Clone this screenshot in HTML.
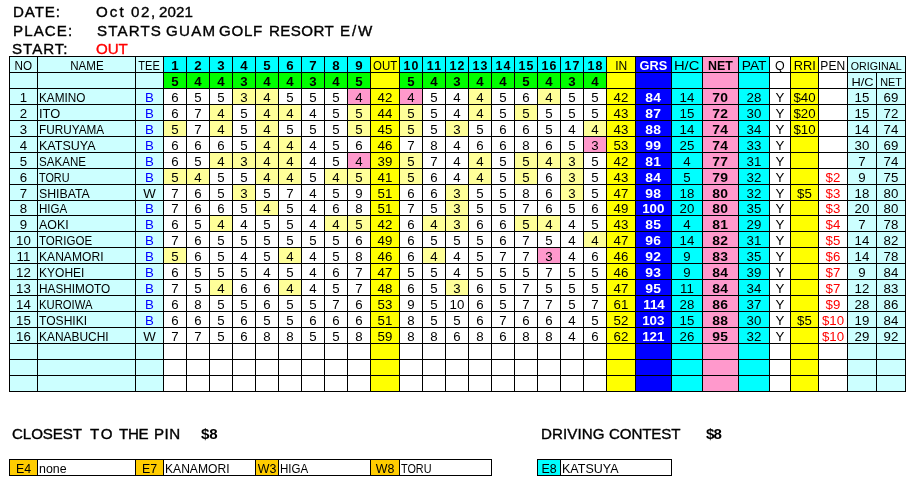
<!DOCTYPE html>
<html><head><meta charset="utf-8"><title>Golf Score</title>
<style>
html,body{margin:0;padding:0;background:#fff;}
body{width:922px;height:492px;position:relative;overflow:hidden;font-family:"Liberation Sans",sans-serif;color:#000;}
.g{position:absolute;background:#000;}
.b{position:absolute;}
.tl{position:absolute;left:0;top:0;width:922px;height:492px;will-change:transform;}
.t{position:absolute;font-size:12.4px;line-height:18px;height:15px;text-align:center;white-space:nowrap;overflow:visible;}
.sm{font-size:11.0px;}
.nm{text-align:left;padding-left:1px;box-sizing:border-box;}
.bd{font-weight:bold;}
.n{transform:scaleX(1.07);}
.wt{color:#fff;}
.bl{color:#0000ff;}
.rd{color:#ff0000;}
.h{position:absolute;transform:scaleX(1.08);transform-origin:left;font-size:14.0px;line-height:18px;white-space:nowrap;-webkit-text-stroke:0.35px currentColor;}
</style></head><body>
<div class="tl">
<div class="h" style="left:12.62px;top:2.85px;letter-spacing:0.82px;color:#000">DATE:</div>
<div class="h" style="left:96.49px;top:2.85px;letter-spacing:1.91px;color:#000">Oct</div>
<div class="h" style="left:130.83px;top:2.85px;letter-spacing:1.52px;color:#000">02,</div>
<div class="h" style="left:158.59px;top:2.85px;letter-spacing:0.09px;color:#000">2021</div>
<div class="h" style="left:12.82px;top:21.85px;letter-spacing:1.01px;color:#000">PLACE:</div>
<div class="h" style="left:96.73px;top:21.85px;letter-spacing:1.05px;color:#000">STARTS</div>
<div class="h" style="left:166.09px;top:21.85px;letter-spacing:1.19px;color:#000">GUAM</div>
<div class="h" style="left:218.79px;top:21.85px;letter-spacing:0.63px;color:#000">GOLF</div>
<div class="h" style="left:268.82px;top:21.85px;letter-spacing:0.39px;color:#000">RESORT</div>
<div class="h" style="left:340.02px;top:21.85px;letter-spacing:1.75px;color:#000">E/W</div>
<div class="h" style="left:12.43px;top:39.65px;letter-spacing:0.90px;color:#000">START:</div>
<div class="h" style="left:96.49px;top:39.65px;letter-spacing:-0.07px;color:#f00">OUT</div>
<div class="h" style="left:11.79px;top:424.95px;letter-spacing:-0.08px;color:#000">CLOSEST</div>
<div class="h" style="left:90.06px;top:424.95px;letter-spacing:1.55px;color:#000">TO</div>
<div class="h" style="left:118.96px;top:424.95px;letter-spacing:-0.31px;color:#000">THE</div>
<div class="h" style="left:154.02px;top:424.95px;letter-spacing:0.42px;color:#000">PIN</div>
<div class="h" style="left:200.80px;top:424.95px;letter-spacing:-0.22px;color:#000;font-weight:bold;-webkit-text-stroke:0">$8</div>
<div class="h" style="left:540.52px;top:424.95px;letter-spacing:0.06px;color:#000">DRIVING</div>
<div class="h" style="left:609.09px;top:424.95px;letter-spacing:-0.13px;color:#000">CONTEST</div>
<div class="h" style="left:706.10px;top:424.95px;letter-spacing:-0.87px;color:#000;font-weight:bold;-webkit-text-stroke:0">$8</div>
</div>
<div class="g" style="left:9px;top:56px;width:897px;height:336px"></div>
<div class="g" style="left:9px;top:459px;width:483px;height:17px"></div>
<div class="g" style="left:537px;top:459px;width:135px;height:17px"></div>
<div class="b" style="left:10px;top:57px;width:27px;height:15px;background:#ccffff"></div>
<div class="b" style="left:38px;top:57px;width:97px;height:15px;background:#ccffff"></div>
<div class="b" style="left:136px;top:57px;width:27px;height:15px;background:#ccffff"></div>
<div class="b" style="left:164px;top:57px;width:22px;height:15px;background:#00ffff"></div>
<div class="b" style="left:187px;top:57px;width:22px;height:15px;background:#00ffff"></div>
<div class="b" style="left:210px;top:57px;width:22px;height:15px;background:#00ffff"></div>
<div class="b" style="left:233px;top:57px;width:22px;height:15px;background:#00ffff"></div>
<div class="b" style="left:256px;top:57px;width:22px;height:15px;background:#00ffff"></div>
<div class="b" style="left:279px;top:57px;width:22px;height:15px;background:#00ffff"></div>
<div class="b" style="left:302px;top:57px;width:22px;height:15px;background:#00ffff"></div>
<div class="b" style="left:325px;top:57px;width:22px;height:15px;background:#00ffff"></div>
<div class="b" style="left:348px;top:57px;width:22px;height:15px;background:#00ffff"></div>
<div class="b" style="left:371px;top:57px;width:28px;height:15px;background:#ffff00"></div>
<div class="b" style="left:400px;top:57px;width:22px;height:15px;background:#00ffff"></div>
<div class="b" style="left:423px;top:57px;width:22px;height:15px;background:#00ffff"></div>
<div class="b" style="left:446px;top:57px;width:22px;height:15px;background:#00ffff"></div>
<div class="b" style="left:469px;top:57px;width:22px;height:15px;background:#00ffff"></div>
<div class="b" style="left:492px;top:57px;width:22px;height:15px;background:#00ffff"></div>
<div class="b" style="left:515px;top:57px;width:22px;height:15px;background:#00ffff"></div>
<div class="b" style="left:538px;top:57px;width:22px;height:15px;background:#00ffff"></div>
<div class="b" style="left:561px;top:57px;width:22px;height:15px;background:#00ffff"></div>
<div class="b" style="left:584px;top:57px;width:22px;height:15px;background:#00ffff"></div>
<div class="b" style="left:607px;top:57px;width:28px;height:15px;background:#ffff00"></div>
<div class="b" style="left:636px;top:57px;width:35px;height:15px;background:#0000ff"></div>
<div class="b" style="left:672px;top:57px;width:30px;height:15px;background:#00ffff"></div>
<div class="b" style="left:703px;top:57px;width:35px;height:15px;background:#ff99cc"></div>
<div class="b" style="left:739px;top:57px;width:30px;height:15px;background:#00ffff"></div>
<div class="b" style="left:770px;top:57px;width:20px;height:15px;background:#ffffff"></div>
<div class="b" style="left:791px;top:57px;width:27px;height:15px;background:#ffff00"></div>
<div class="b" style="left:819px;top:57px;width:28px;height:15px;background:#ffffff"></div>
<div class="b" style="left:848px;top:57px;width:57px;height:15px;background:#ccffff"></div>
<div class="b" style="left:10px;top:73px;width:27px;height:15px;background:#ccffff"></div>
<div class="b" style="left:38px;top:73px;width:97px;height:15px;background:#ccffff"></div>
<div class="b" style="left:136px;top:73px;width:27px;height:15px;background:#ccffff"></div>
<div class="b" style="left:164px;top:73px;width:22px;height:15px;background:#00ff00"></div>
<div class="b" style="left:187px;top:73px;width:22px;height:15px;background:#00ff00"></div>
<div class="b" style="left:210px;top:73px;width:22px;height:15px;background:#00ff00"></div>
<div class="b" style="left:233px;top:73px;width:22px;height:15px;background:#00ff00"></div>
<div class="b" style="left:256px;top:73px;width:22px;height:15px;background:#00ff00"></div>
<div class="b" style="left:279px;top:73px;width:22px;height:15px;background:#00ff00"></div>
<div class="b" style="left:302px;top:73px;width:22px;height:15px;background:#00ff00"></div>
<div class="b" style="left:325px;top:73px;width:22px;height:15px;background:#00ff00"></div>
<div class="b" style="left:348px;top:73px;width:22px;height:15px;background:#00ff00"></div>
<div class="b" style="left:371px;top:73px;width:28px;height:15px;background:#ffff00"></div>
<div class="b" style="left:400px;top:73px;width:22px;height:15px;background:#00ff00"></div>
<div class="b" style="left:423px;top:73px;width:22px;height:15px;background:#00ff00"></div>
<div class="b" style="left:446px;top:73px;width:22px;height:15px;background:#00ff00"></div>
<div class="b" style="left:469px;top:73px;width:22px;height:15px;background:#00ff00"></div>
<div class="b" style="left:492px;top:73px;width:22px;height:15px;background:#00ff00"></div>
<div class="b" style="left:515px;top:73px;width:22px;height:15px;background:#00ff00"></div>
<div class="b" style="left:538px;top:73px;width:22px;height:15px;background:#00ff00"></div>
<div class="b" style="left:561px;top:73px;width:22px;height:15px;background:#00ff00"></div>
<div class="b" style="left:584px;top:73px;width:22px;height:15px;background:#00ff00"></div>
<div class="b" style="left:607px;top:73px;width:28px;height:15px;background:#ffff00"></div>
<div class="b" style="left:636px;top:73px;width:35px;height:15px;background:#0000ff"></div>
<div class="b" style="left:672px;top:73px;width:30px;height:15px;background:#00ffff"></div>
<div class="b" style="left:703px;top:73px;width:35px;height:15px;background:#ff99cc"></div>
<div class="b" style="left:739px;top:73px;width:30px;height:15px;background:#00ffff"></div>
<div class="b" style="left:770px;top:73px;width:20px;height:15px;background:#ffffff"></div>
<div class="b" style="left:791px;top:73px;width:27px;height:15px;background:#ffff00"></div>
<div class="b" style="left:819px;top:73px;width:28px;height:15px;background:#ffffff"></div>
<div class="b" style="left:848px;top:73px;width:28px;height:15px;background:#ccffff"></div>
<div class="b" style="left:877px;top:73px;width:28px;height:15px;background:#ccffff"></div>
<div class="b" style="left:10px;top:89px;width:27px;height:15px;background:#ccffff"></div>
<div class="b" style="left:38px;top:89px;width:97px;height:15px;background:#ccffff"></div>
<div class="b" style="left:136px;top:89px;width:27px;height:15px;background:#ccffff"></div>
<div class="b" style="left:164px;top:89px;width:22px;height:15px;background:#ffffff"></div>
<div class="b" style="left:187px;top:89px;width:22px;height:15px;background:#ffffff"></div>
<div class="b" style="left:210px;top:89px;width:22px;height:15px;background:#ffffff"></div>
<div class="b" style="left:233px;top:89px;width:22px;height:15px;background:#ffff99"></div>
<div class="b" style="left:256px;top:89px;width:22px;height:15px;background:#ffff99"></div>
<div class="b" style="left:279px;top:89px;width:22px;height:15px;background:#ffffff"></div>
<div class="b" style="left:302px;top:89px;width:22px;height:15px;background:#ffffff"></div>
<div class="b" style="left:325px;top:89px;width:22px;height:15px;background:#ffffff"></div>
<div class="b" style="left:348px;top:89px;width:22px;height:15px;background:#ff99cc"></div>
<div class="b" style="left:371px;top:89px;width:28px;height:15px;background:#ffff00"></div>
<div class="b" style="left:400px;top:89px;width:22px;height:15px;background:#ff99cc"></div>
<div class="b" style="left:423px;top:89px;width:22px;height:15px;background:#ffffff"></div>
<div class="b" style="left:446px;top:89px;width:22px;height:15px;background:#ffffff"></div>
<div class="b" style="left:469px;top:89px;width:22px;height:15px;background:#ffff99"></div>
<div class="b" style="left:492px;top:89px;width:22px;height:15px;background:#ffffff"></div>
<div class="b" style="left:515px;top:89px;width:22px;height:15px;background:#ffffff"></div>
<div class="b" style="left:538px;top:89px;width:22px;height:15px;background:#ffff99"></div>
<div class="b" style="left:561px;top:89px;width:22px;height:15px;background:#ffffff"></div>
<div class="b" style="left:584px;top:89px;width:22px;height:15px;background:#ffffff"></div>
<div class="b" style="left:607px;top:89px;width:28px;height:15px;background:#ffff00"></div>
<div class="b" style="left:636px;top:89px;width:35px;height:15px;background:#0000ff"></div>
<div class="b" style="left:672px;top:89px;width:30px;height:15px;background:#00ffff"></div>
<div class="b" style="left:703px;top:89px;width:35px;height:15px;background:#ff99cc"></div>
<div class="b" style="left:739px;top:89px;width:30px;height:15px;background:#00ffff"></div>
<div class="b" style="left:770px;top:89px;width:20px;height:15px;background:#ffffff"></div>
<div class="b" style="left:791px;top:89px;width:27px;height:15px;background:#ffff00"></div>
<div class="b" style="left:819px;top:89px;width:28px;height:15px;background:#ffffff"></div>
<div class="b" style="left:848px;top:89px;width:28px;height:15px;background:#ccffff"></div>
<div class="b" style="left:877px;top:89px;width:28px;height:15px;background:#ccffff"></div>
<div class="b" style="left:10px;top:105px;width:27px;height:15px;background:#ccffff"></div>
<div class="b" style="left:38px;top:105px;width:97px;height:15px;background:#ccffff"></div>
<div class="b" style="left:136px;top:105px;width:27px;height:15px;background:#ccffff"></div>
<div class="b" style="left:164px;top:105px;width:22px;height:15px;background:#ffffff"></div>
<div class="b" style="left:187px;top:105px;width:22px;height:15px;background:#ffffff"></div>
<div class="b" style="left:210px;top:105px;width:22px;height:15px;background:#ffff99"></div>
<div class="b" style="left:233px;top:105px;width:22px;height:15px;background:#ffffff"></div>
<div class="b" style="left:256px;top:105px;width:22px;height:15px;background:#ffff99"></div>
<div class="b" style="left:279px;top:105px;width:22px;height:15px;background:#ffff99"></div>
<div class="b" style="left:302px;top:105px;width:22px;height:15px;background:#ffffff"></div>
<div class="b" style="left:325px;top:105px;width:22px;height:15px;background:#ffffff"></div>
<div class="b" style="left:348px;top:105px;width:22px;height:15px;background:#ffff99"></div>
<div class="b" style="left:371px;top:105px;width:28px;height:15px;background:#ffff00"></div>
<div class="b" style="left:400px;top:105px;width:22px;height:15px;background:#ffff99"></div>
<div class="b" style="left:423px;top:105px;width:22px;height:15px;background:#ffffff"></div>
<div class="b" style="left:446px;top:105px;width:22px;height:15px;background:#ffffff"></div>
<div class="b" style="left:469px;top:105px;width:22px;height:15px;background:#ffff99"></div>
<div class="b" style="left:492px;top:105px;width:22px;height:15px;background:#ffffff"></div>
<div class="b" style="left:515px;top:105px;width:22px;height:15px;background:#ffff99"></div>
<div class="b" style="left:538px;top:105px;width:22px;height:15px;background:#ffffff"></div>
<div class="b" style="left:561px;top:105px;width:22px;height:15px;background:#ffffff"></div>
<div class="b" style="left:584px;top:105px;width:22px;height:15px;background:#ffffff"></div>
<div class="b" style="left:607px;top:105px;width:28px;height:15px;background:#ffff00"></div>
<div class="b" style="left:636px;top:105px;width:35px;height:15px;background:#0000ff"></div>
<div class="b" style="left:672px;top:105px;width:30px;height:15px;background:#00ffff"></div>
<div class="b" style="left:703px;top:105px;width:35px;height:15px;background:#ff99cc"></div>
<div class="b" style="left:739px;top:105px;width:30px;height:15px;background:#00ffff"></div>
<div class="b" style="left:770px;top:105px;width:20px;height:15px;background:#ffffff"></div>
<div class="b" style="left:791px;top:105px;width:27px;height:15px;background:#ffff00"></div>
<div class="b" style="left:819px;top:105px;width:28px;height:15px;background:#ffffff"></div>
<div class="b" style="left:848px;top:105px;width:28px;height:15px;background:#ccffff"></div>
<div class="b" style="left:877px;top:105px;width:28px;height:15px;background:#ccffff"></div>
<div class="b" style="left:10px;top:121px;width:27px;height:15px;background:#ccffff"></div>
<div class="b" style="left:38px;top:121px;width:97px;height:15px;background:#ccffff"></div>
<div class="b" style="left:136px;top:121px;width:27px;height:15px;background:#ccffff"></div>
<div class="b" style="left:164px;top:121px;width:22px;height:15px;background:#ffff99"></div>
<div class="b" style="left:187px;top:121px;width:22px;height:15px;background:#ffffff"></div>
<div class="b" style="left:210px;top:121px;width:22px;height:15px;background:#ffff99"></div>
<div class="b" style="left:233px;top:121px;width:22px;height:15px;background:#ffffff"></div>
<div class="b" style="left:256px;top:121px;width:22px;height:15px;background:#ffff99"></div>
<div class="b" style="left:279px;top:121px;width:22px;height:15px;background:#ffffff"></div>
<div class="b" style="left:302px;top:121px;width:22px;height:15px;background:#ffffff"></div>
<div class="b" style="left:325px;top:121px;width:22px;height:15px;background:#ffffff"></div>
<div class="b" style="left:348px;top:121px;width:22px;height:15px;background:#ffff99"></div>
<div class="b" style="left:371px;top:121px;width:28px;height:15px;background:#ffff00"></div>
<div class="b" style="left:400px;top:121px;width:22px;height:15px;background:#ffff99"></div>
<div class="b" style="left:423px;top:121px;width:22px;height:15px;background:#ffffff"></div>
<div class="b" style="left:446px;top:121px;width:22px;height:15px;background:#ffff99"></div>
<div class="b" style="left:469px;top:121px;width:22px;height:15px;background:#ffffff"></div>
<div class="b" style="left:492px;top:121px;width:22px;height:15px;background:#ffffff"></div>
<div class="b" style="left:515px;top:121px;width:22px;height:15px;background:#ffffff"></div>
<div class="b" style="left:538px;top:121px;width:22px;height:15px;background:#ffffff"></div>
<div class="b" style="left:561px;top:121px;width:22px;height:15px;background:#ffffff"></div>
<div class="b" style="left:584px;top:121px;width:22px;height:15px;background:#ffff99"></div>
<div class="b" style="left:607px;top:121px;width:28px;height:15px;background:#ffff00"></div>
<div class="b" style="left:636px;top:121px;width:35px;height:15px;background:#0000ff"></div>
<div class="b" style="left:672px;top:121px;width:30px;height:15px;background:#00ffff"></div>
<div class="b" style="left:703px;top:121px;width:35px;height:15px;background:#ff99cc"></div>
<div class="b" style="left:739px;top:121px;width:30px;height:15px;background:#00ffff"></div>
<div class="b" style="left:770px;top:121px;width:20px;height:15px;background:#ffffff"></div>
<div class="b" style="left:791px;top:121px;width:27px;height:15px;background:#ffff00"></div>
<div class="b" style="left:819px;top:121px;width:28px;height:15px;background:#ffffff"></div>
<div class="b" style="left:848px;top:121px;width:28px;height:15px;background:#ccffff"></div>
<div class="b" style="left:877px;top:121px;width:28px;height:15px;background:#ccffff"></div>
<div class="b" style="left:10px;top:137px;width:27px;height:15px;background:#ccffff"></div>
<div class="b" style="left:38px;top:137px;width:97px;height:15px;background:#ccffff"></div>
<div class="b" style="left:136px;top:137px;width:27px;height:15px;background:#ccffff"></div>
<div class="b" style="left:164px;top:137px;width:22px;height:15px;background:#ffffff"></div>
<div class="b" style="left:187px;top:137px;width:22px;height:15px;background:#ffffff"></div>
<div class="b" style="left:210px;top:137px;width:22px;height:15px;background:#ffffff"></div>
<div class="b" style="left:233px;top:137px;width:22px;height:15px;background:#ffffff"></div>
<div class="b" style="left:256px;top:137px;width:22px;height:15px;background:#ffff99"></div>
<div class="b" style="left:279px;top:137px;width:22px;height:15px;background:#ffff99"></div>
<div class="b" style="left:302px;top:137px;width:22px;height:15px;background:#ffffff"></div>
<div class="b" style="left:325px;top:137px;width:22px;height:15px;background:#ffffff"></div>
<div class="b" style="left:348px;top:137px;width:22px;height:15px;background:#ffffff"></div>
<div class="b" style="left:371px;top:137px;width:28px;height:15px;background:#ffff00"></div>
<div class="b" style="left:400px;top:137px;width:22px;height:15px;background:#ffffff"></div>
<div class="b" style="left:423px;top:137px;width:22px;height:15px;background:#ffffff"></div>
<div class="b" style="left:446px;top:137px;width:22px;height:15px;background:#ffffff"></div>
<div class="b" style="left:469px;top:137px;width:22px;height:15px;background:#ffffff"></div>
<div class="b" style="left:492px;top:137px;width:22px;height:15px;background:#ffffff"></div>
<div class="b" style="left:515px;top:137px;width:22px;height:15px;background:#ffffff"></div>
<div class="b" style="left:538px;top:137px;width:22px;height:15px;background:#ffffff"></div>
<div class="b" style="left:561px;top:137px;width:22px;height:15px;background:#ffffff"></div>
<div class="b" style="left:584px;top:137px;width:22px;height:15px;background:#ff99cc"></div>
<div class="b" style="left:607px;top:137px;width:28px;height:15px;background:#ffff00"></div>
<div class="b" style="left:636px;top:137px;width:35px;height:15px;background:#0000ff"></div>
<div class="b" style="left:672px;top:137px;width:30px;height:15px;background:#00ffff"></div>
<div class="b" style="left:703px;top:137px;width:35px;height:15px;background:#ff99cc"></div>
<div class="b" style="left:739px;top:137px;width:30px;height:15px;background:#00ffff"></div>
<div class="b" style="left:770px;top:137px;width:20px;height:15px;background:#ffffff"></div>
<div class="b" style="left:791px;top:137px;width:27px;height:15px;background:#ffff00"></div>
<div class="b" style="left:819px;top:137px;width:28px;height:15px;background:#ffffff"></div>
<div class="b" style="left:848px;top:137px;width:28px;height:15px;background:#ccffff"></div>
<div class="b" style="left:877px;top:137px;width:28px;height:15px;background:#ccffff"></div>
<div class="b" style="left:10px;top:153px;width:27px;height:15px;background:#ccffff"></div>
<div class="b" style="left:38px;top:153px;width:97px;height:15px;background:#ccffff"></div>
<div class="b" style="left:136px;top:153px;width:27px;height:15px;background:#ccffff"></div>
<div class="b" style="left:164px;top:153px;width:22px;height:15px;background:#ffffff"></div>
<div class="b" style="left:187px;top:153px;width:22px;height:15px;background:#ffffff"></div>
<div class="b" style="left:210px;top:153px;width:22px;height:15px;background:#ffff99"></div>
<div class="b" style="left:233px;top:153px;width:22px;height:15px;background:#ffff99"></div>
<div class="b" style="left:256px;top:153px;width:22px;height:15px;background:#ffff99"></div>
<div class="b" style="left:279px;top:153px;width:22px;height:15px;background:#ffff99"></div>
<div class="b" style="left:302px;top:153px;width:22px;height:15px;background:#ffffff"></div>
<div class="b" style="left:325px;top:153px;width:22px;height:15px;background:#ffffff"></div>
<div class="b" style="left:348px;top:153px;width:22px;height:15px;background:#ff99cc"></div>
<div class="b" style="left:371px;top:153px;width:28px;height:15px;background:#ffff00"></div>
<div class="b" style="left:400px;top:153px;width:22px;height:15px;background:#ffff99"></div>
<div class="b" style="left:423px;top:153px;width:22px;height:15px;background:#ffffff"></div>
<div class="b" style="left:446px;top:153px;width:22px;height:15px;background:#ffffff"></div>
<div class="b" style="left:469px;top:153px;width:22px;height:15px;background:#ffff99"></div>
<div class="b" style="left:492px;top:153px;width:22px;height:15px;background:#ffffff"></div>
<div class="b" style="left:515px;top:153px;width:22px;height:15px;background:#ffff99"></div>
<div class="b" style="left:538px;top:153px;width:22px;height:15px;background:#ffff99"></div>
<div class="b" style="left:561px;top:153px;width:22px;height:15px;background:#ffff99"></div>
<div class="b" style="left:584px;top:153px;width:22px;height:15px;background:#ffffff"></div>
<div class="b" style="left:607px;top:153px;width:28px;height:15px;background:#ffff00"></div>
<div class="b" style="left:636px;top:153px;width:35px;height:15px;background:#0000ff"></div>
<div class="b" style="left:672px;top:153px;width:30px;height:15px;background:#00ffff"></div>
<div class="b" style="left:703px;top:153px;width:35px;height:15px;background:#ff99cc"></div>
<div class="b" style="left:739px;top:153px;width:30px;height:15px;background:#00ffff"></div>
<div class="b" style="left:770px;top:153px;width:20px;height:15px;background:#ffffff"></div>
<div class="b" style="left:791px;top:153px;width:27px;height:15px;background:#ffff00"></div>
<div class="b" style="left:819px;top:153px;width:28px;height:15px;background:#ffffff"></div>
<div class="b" style="left:848px;top:153px;width:28px;height:15px;background:#ccffff"></div>
<div class="b" style="left:877px;top:153px;width:28px;height:15px;background:#ccffff"></div>
<div class="b" style="left:10px;top:169px;width:27px;height:15px;background:#ccffff"></div>
<div class="b" style="left:38px;top:169px;width:97px;height:15px;background:#ccffff"></div>
<div class="b" style="left:136px;top:169px;width:27px;height:15px;background:#ccffff"></div>
<div class="b" style="left:164px;top:169px;width:22px;height:15px;background:#ffff99"></div>
<div class="b" style="left:187px;top:169px;width:22px;height:15px;background:#ffff99"></div>
<div class="b" style="left:210px;top:169px;width:22px;height:15px;background:#ffffff"></div>
<div class="b" style="left:233px;top:169px;width:22px;height:15px;background:#ffffff"></div>
<div class="b" style="left:256px;top:169px;width:22px;height:15px;background:#ffff99"></div>
<div class="b" style="left:279px;top:169px;width:22px;height:15px;background:#ffff99"></div>
<div class="b" style="left:302px;top:169px;width:22px;height:15px;background:#ffffff"></div>
<div class="b" style="left:325px;top:169px;width:22px;height:15px;background:#ffff99"></div>
<div class="b" style="left:348px;top:169px;width:22px;height:15px;background:#ffff99"></div>
<div class="b" style="left:371px;top:169px;width:28px;height:15px;background:#ffff00"></div>
<div class="b" style="left:400px;top:169px;width:22px;height:15px;background:#ffff99"></div>
<div class="b" style="left:423px;top:169px;width:22px;height:15px;background:#ffffff"></div>
<div class="b" style="left:446px;top:169px;width:22px;height:15px;background:#ffffff"></div>
<div class="b" style="left:469px;top:169px;width:22px;height:15px;background:#ffff99"></div>
<div class="b" style="left:492px;top:169px;width:22px;height:15px;background:#ffffff"></div>
<div class="b" style="left:515px;top:169px;width:22px;height:15px;background:#ffff99"></div>
<div class="b" style="left:538px;top:169px;width:22px;height:15px;background:#ffffff"></div>
<div class="b" style="left:561px;top:169px;width:22px;height:15px;background:#ffff99"></div>
<div class="b" style="left:584px;top:169px;width:22px;height:15px;background:#ffffff"></div>
<div class="b" style="left:607px;top:169px;width:28px;height:15px;background:#ffff00"></div>
<div class="b" style="left:636px;top:169px;width:35px;height:15px;background:#0000ff"></div>
<div class="b" style="left:672px;top:169px;width:30px;height:15px;background:#00ffff"></div>
<div class="b" style="left:703px;top:169px;width:35px;height:15px;background:#ff99cc"></div>
<div class="b" style="left:739px;top:169px;width:30px;height:15px;background:#00ffff"></div>
<div class="b" style="left:770px;top:169px;width:20px;height:15px;background:#ffffff"></div>
<div class="b" style="left:791px;top:169px;width:27px;height:15px;background:#ffff00"></div>
<div class="b" style="left:819px;top:169px;width:28px;height:15px;background:#ffffff"></div>
<div class="b" style="left:848px;top:169px;width:28px;height:15px;background:#ccffff"></div>
<div class="b" style="left:877px;top:169px;width:28px;height:15px;background:#ccffff"></div>
<div class="b" style="left:10px;top:185px;width:27px;height:15px;background:#ccffff"></div>
<div class="b" style="left:38px;top:185px;width:97px;height:15px;background:#ccffff"></div>
<div class="b" style="left:136px;top:185px;width:27px;height:15px;background:#ccffff"></div>
<div class="b" style="left:164px;top:185px;width:22px;height:15px;background:#ffffff"></div>
<div class="b" style="left:187px;top:185px;width:22px;height:15px;background:#ffffff"></div>
<div class="b" style="left:210px;top:185px;width:22px;height:15px;background:#ffffff"></div>
<div class="b" style="left:233px;top:185px;width:22px;height:15px;background:#ffff99"></div>
<div class="b" style="left:256px;top:185px;width:22px;height:15px;background:#ffffff"></div>
<div class="b" style="left:279px;top:185px;width:22px;height:15px;background:#ffffff"></div>
<div class="b" style="left:302px;top:185px;width:22px;height:15px;background:#ffffff"></div>
<div class="b" style="left:325px;top:185px;width:22px;height:15px;background:#ffffff"></div>
<div class="b" style="left:348px;top:185px;width:22px;height:15px;background:#ffffff"></div>
<div class="b" style="left:371px;top:185px;width:28px;height:15px;background:#ffff00"></div>
<div class="b" style="left:400px;top:185px;width:22px;height:15px;background:#ffffff"></div>
<div class="b" style="left:423px;top:185px;width:22px;height:15px;background:#ffffff"></div>
<div class="b" style="left:446px;top:185px;width:22px;height:15px;background:#ffff99"></div>
<div class="b" style="left:469px;top:185px;width:22px;height:15px;background:#ffffff"></div>
<div class="b" style="left:492px;top:185px;width:22px;height:15px;background:#ffffff"></div>
<div class="b" style="left:515px;top:185px;width:22px;height:15px;background:#ffffff"></div>
<div class="b" style="left:538px;top:185px;width:22px;height:15px;background:#ffffff"></div>
<div class="b" style="left:561px;top:185px;width:22px;height:15px;background:#ffff99"></div>
<div class="b" style="left:584px;top:185px;width:22px;height:15px;background:#ffffff"></div>
<div class="b" style="left:607px;top:185px;width:28px;height:15px;background:#ffff00"></div>
<div class="b" style="left:636px;top:185px;width:35px;height:15px;background:#0000ff"></div>
<div class="b" style="left:672px;top:185px;width:30px;height:15px;background:#00ffff"></div>
<div class="b" style="left:703px;top:185px;width:35px;height:15px;background:#ff99cc"></div>
<div class="b" style="left:739px;top:185px;width:30px;height:15px;background:#00ffff"></div>
<div class="b" style="left:770px;top:185px;width:20px;height:15px;background:#ffffff"></div>
<div class="b" style="left:791px;top:185px;width:27px;height:15px;background:#ffff00"></div>
<div class="b" style="left:819px;top:185px;width:28px;height:15px;background:#ffffff"></div>
<div class="b" style="left:848px;top:185px;width:28px;height:15px;background:#ccffff"></div>
<div class="b" style="left:877px;top:185px;width:28px;height:15px;background:#ccffff"></div>
<div class="b" style="left:10px;top:201px;width:27px;height:14px;background:#ccffff"></div>
<div class="b" style="left:38px;top:201px;width:97px;height:14px;background:#ccffff"></div>
<div class="b" style="left:136px;top:201px;width:27px;height:14px;background:#ccffff"></div>
<div class="b" style="left:164px;top:201px;width:22px;height:14px;background:#ffffff"></div>
<div class="b" style="left:187px;top:201px;width:22px;height:14px;background:#ffffff"></div>
<div class="b" style="left:210px;top:201px;width:22px;height:14px;background:#ffffff"></div>
<div class="b" style="left:233px;top:201px;width:22px;height:14px;background:#ffffff"></div>
<div class="b" style="left:256px;top:201px;width:22px;height:14px;background:#ffff99"></div>
<div class="b" style="left:279px;top:201px;width:22px;height:14px;background:#ffffff"></div>
<div class="b" style="left:302px;top:201px;width:22px;height:14px;background:#ffffff"></div>
<div class="b" style="left:325px;top:201px;width:22px;height:14px;background:#ffffff"></div>
<div class="b" style="left:348px;top:201px;width:22px;height:14px;background:#ffffff"></div>
<div class="b" style="left:371px;top:201px;width:28px;height:14px;background:#ffff00"></div>
<div class="b" style="left:400px;top:201px;width:22px;height:14px;background:#ffffff"></div>
<div class="b" style="left:423px;top:201px;width:22px;height:14px;background:#ffffff"></div>
<div class="b" style="left:446px;top:201px;width:22px;height:14px;background:#ffff99"></div>
<div class="b" style="left:469px;top:201px;width:22px;height:14px;background:#ffffff"></div>
<div class="b" style="left:492px;top:201px;width:22px;height:14px;background:#ffffff"></div>
<div class="b" style="left:515px;top:201px;width:22px;height:14px;background:#ffffff"></div>
<div class="b" style="left:538px;top:201px;width:22px;height:14px;background:#ffffff"></div>
<div class="b" style="left:561px;top:201px;width:22px;height:14px;background:#ffffff"></div>
<div class="b" style="left:584px;top:201px;width:22px;height:14px;background:#ffffff"></div>
<div class="b" style="left:607px;top:201px;width:28px;height:14px;background:#ffff00"></div>
<div class="b" style="left:636px;top:201px;width:35px;height:14px;background:#0000ff"></div>
<div class="b" style="left:672px;top:201px;width:30px;height:14px;background:#00ffff"></div>
<div class="b" style="left:703px;top:201px;width:35px;height:14px;background:#ff99cc"></div>
<div class="b" style="left:739px;top:201px;width:30px;height:14px;background:#00ffff"></div>
<div class="b" style="left:770px;top:201px;width:20px;height:14px;background:#ffffff"></div>
<div class="b" style="left:791px;top:201px;width:27px;height:14px;background:#ffff00"></div>
<div class="b" style="left:819px;top:201px;width:28px;height:14px;background:#ffffff"></div>
<div class="b" style="left:848px;top:201px;width:28px;height:14px;background:#ccffff"></div>
<div class="b" style="left:877px;top:201px;width:28px;height:14px;background:#ccffff"></div>
<div class="b" style="left:10px;top:216px;width:27px;height:15px;background:#ccffff"></div>
<div class="b" style="left:38px;top:216px;width:97px;height:15px;background:#ccffff"></div>
<div class="b" style="left:136px;top:216px;width:27px;height:15px;background:#ccffff"></div>
<div class="b" style="left:164px;top:216px;width:22px;height:15px;background:#ffffff"></div>
<div class="b" style="left:187px;top:216px;width:22px;height:15px;background:#ffffff"></div>
<div class="b" style="left:210px;top:216px;width:22px;height:15px;background:#ffff99"></div>
<div class="b" style="left:233px;top:216px;width:22px;height:15px;background:#ffffff"></div>
<div class="b" style="left:256px;top:216px;width:22px;height:15px;background:#ffffff"></div>
<div class="b" style="left:279px;top:216px;width:22px;height:15px;background:#ffffff"></div>
<div class="b" style="left:302px;top:216px;width:22px;height:15px;background:#ffffff"></div>
<div class="b" style="left:325px;top:216px;width:22px;height:15px;background:#ffff99"></div>
<div class="b" style="left:348px;top:216px;width:22px;height:15px;background:#ffff99"></div>
<div class="b" style="left:371px;top:216px;width:28px;height:15px;background:#ffff00"></div>
<div class="b" style="left:400px;top:216px;width:22px;height:15px;background:#ffffff"></div>
<div class="b" style="left:423px;top:216px;width:22px;height:15px;background:#ffff99"></div>
<div class="b" style="left:446px;top:216px;width:22px;height:15px;background:#ffff99"></div>
<div class="b" style="left:469px;top:216px;width:22px;height:15px;background:#ffffff"></div>
<div class="b" style="left:492px;top:216px;width:22px;height:15px;background:#ffffff"></div>
<div class="b" style="left:515px;top:216px;width:22px;height:15px;background:#ffff99"></div>
<div class="b" style="left:538px;top:216px;width:22px;height:15px;background:#ffff99"></div>
<div class="b" style="left:561px;top:216px;width:22px;height:15px;background:#ffffff"></div>
<div class="b" style="left:584px;top:216px;width:22px;height:15px;background:#ffffff"></div>
<div class="b" style="left:607px;top:216px;width:28px;height:15px;background:#ffff00"></div>
<div class="b" style="left:636px;top:216px;width:35px;height:15px;background:#0000ff"></div>
<div class="b" style="left:672px;top:216px;width:30px;height:15px;background:#00ffff"></div>
<div class="b" style="left:703px;top:216px;width:35px;height:15px;background:#ff99cc"></div>
<div class="b" style="left:739px;top:216px;width:30px;height:15px;background:#00ffff"></div>
<div class="b" style="left:770px;top:216px;width:20px;height:15px;background:#ffffff"></div>
<div class="b" style="left:791px;top:216px;width:27px;height:15px;background:#ffff00"></div>
<div class="b" style="left:819px;top:216px;width:28px;height:15px;background:#ffffff"></div>
<div class="b" style="left:848px;top:216px;width:28px;height:15px;background:#ccffff"></div>
<div class="b" style="left:877px;top:216px;width:28px;height:15px;background:#ccffff"></div>
<div class="b" style="left:10px;top:232px;width:27px;height:15px;background:#ccffff"></div>
<div class="b" style="left:38px;top:232px;width:97px;height:15px;background:#ccffff"></div>
<div class="b" style="left:136px;top:232px;width:27px;height:15px;background:#ccffff"></div>
<div class="b" style="left:164px;top:232px;width:22px;height:15px;background:#ffffff"></div>
<div class="b" style="left:187px;top:232px;width:22px;height:15px;background:#ffffff"></div>
<div class="b" style="left:210px;top:232px;width:22px;height:15px;background:#ffffff"></div>
<div class="b" style="left:233px;top:232px;width:22px;height:15px;background:#ffffff"></div>
<div class="b" style="left:256px;top:232px;width:22px;height:15px;background:#ffffff"></div>
<div class="b" style="left:279px;top:232px;width:22px;height:15px;background:#ffffff"></div>
<div class="b" style="left:302px;top:232px;width:22px;height:15px;background:#ffffff"></div>
<div class="b" style="left:325px;top:232px;width:22px;height:15px;background:#ffffff"></div>
<div class="b" style="left:348px;top:232px;width:22px;height:15px;background:#ffffff"></div>
<div class="b" style="left:371px;top:232px;width:28px;height:15px;background:#ffff00"></div>
<div class="b" style="left:400px;top:232px;width:22px;height:15px;background:#ffffff"></div>
<div class="b" style="left:423px;top:232px;width:22px;height:15px;background:#ffffff"></div>
<div class="b" style="left:446px;top:232px;width:22px;height:15px;background:#ffffff"></div>
<div class="b" style="left:469px;top:232px;width:22px;height:15px;background:#ffffff"></div>
<div class="b" style="left:492px;top:232px;width:22px;height:15px;background:#ffffff"></div>
<div class="b" style="left:515px;top:232px;width:22px;height:15px;background:#ffffff"></div>
<div class="b" style="left:538px;top:232px;width:22px;height:15px;background:#ffffff"></div>
<div class="b" style="left:561px;top:232px;width:22px;height:15px;background:#ffffff"></div>
<div class="b" style="left:584px;top:232px;width:22px;height:15px;background:#ffff99"></div>
<div class="b" style="left:607px;top:232px;width:28px;height:15px;background:#ffff00"></div>
<div class="b" style="left:636px;top:232px;width:35px;height:15px;background:#0000ff"></div>
<div class="b" style="left:672px;top:232px;width:30px;height:15px;background:#00ffff"></div>
<div class="b" style="left:703px;top:232px;width:35px;height:15px;background:#ff99cc"></div>
<div class="b" style="left:739px;top:232px;width:30px;height:15px;background:#00ffff"></div>
<div class="b" style="left:770px;top:232px;width:20px;height:15px;background:#ffffff"></div>
<div class="b" style="left:791px;top:232px;width:27px;height:15px;background:#ffff00"></div>
<div class="b" style="left:819px;top:232px;width:28px;height:15px;background:#ffffff"></div>
<div class="b" style="left:848px;top:232px;width:28px;height:15px;background:#ccffff"></div>
<div class="b" style="left:877px;top:232px;width:28px;height:15px;background:#ccffff"></div>
<div class="b" style="left:10px;top:248px;width:27px;height:15px;background:#ccffff"></div>
<div class="b" style="left:38px;top:248px;width:97px;height:15px;background:#ccffff"></div>
<div class="b" style="left:136px;top:248px;width:27px;height:15px;background:#ccffff"></div>
<div class="b" style="left:164px;top:248px;width:22px;height:15px;background:#ffff99"></div>
<div class="b" style="left:187px;top:248px;width:22px;height:15px;background:#ffffff"></div>
<div class="b" style="left:210px;top:248px;width:22px;height:15px;background:#ffffff"></div>
<div class="b" style="left:233px;top:248px;width:22px;height:15px;background:#ffffff"></div>
<div class="b" style="left:256px;top:248px;width:22px;height:15px;background:#ffffff"></div>
<div class="b" style="left:279px;top:248px;width:22px;height:15px;background:#ffff99"></div>
<div class="b" style="left:302px;top:248px;width:22px;height:15px;background:#ffffff"></div>
<div class="b" style="left:325px;top:248px;width:22px;height:15px;background:#ffffff"></div>
<div class="b" style="left:348px;top:248px;width:22px;height:15px;background:#ffffff"></div>
<div class="b" style="left:371px;top:248px;width:28px;height:15px;background:#ffff00"></div>
<div class="b" style="left:400px;top:248px;width:22px;height:15px;background:#ffffff"></div>
<div class="b" style="left:423px;top:248px;width:22px;height:15px;background:#ffff99"></div>
<div class="b" style="left:446px;top:248px;width:22px;height:15px;background:#ffffff"></div>
<div class="b" style="left:469px;top:248px;width:22px;height:15px;background:#ffffff"></div>
<div class="b" style="left:492px;top:248px;width:22px;height:15px;background:#ffffff"></div>
<div class="b" style="left:515px;top:248px;width:22px;height:15px;background:#ffffff"></div>
<div class="b" style="left:538px;top:248px;width:22px;height:15px;background:#ff99cc"></div>
<div class="b" style="left:561px;top:248px;width:22px;height:15px;background:#ffffff"></div>
<div class="b" style="left:584px;top:248px;width:22px;height:15px;background:#ffffff"></div>
<div class="b" style="left:607px;top:248px;width:28px;height:15px;background:#ffff00"></div>
<div class="b" style="left:636px;top:248px;width:35px;height:15px;background:#0000ff"></div>
<div class="b" style="left:672px;top:248px;width:30px;height:15px;background:#00ffff"></div>
<div class="b" style="left:703px;top:248px;width:35px;height:15px;background:#ff99cc"></div>
<div class="b" style="left:739px;top:248px;width:30px;height:15px;background:#00ffff"></div>
<div class="b" style="left:770px;top:248px;width:20px;height:15px;background:#ffffff"></div>
<div class="b" style="left:791px;top:248px;width:27px;height:15px;background:#ffff00"></div>
<div class="b" style="left:819px;top:248px;width:28px;height:15px;background:#ffffff"></div>
<div class="b" style="left:848px;top:248px;width:28px;height:15px;background:#ccffff"></div>
<div class="b" style="left:877px;top:248px;width:28px;height:15px;background:#ccffff"></div>
<div class="b" style="left:10px;top:264px;width:27px;height:15px;background:#ccffff"></div>
<div class="b" style="left:38px;top:264px;width:97px;height:15px;background:#ccffff"></div>
<div class="b" style="left:136px;top:264px;width:27px;height:15px;background:#ccffff"></div>
<div class="b" style="left:164px;top:264px;width:22px;height:15px;background:#ffffff"></div>
<div class="b" style="left:187px;top:264px;width:22px;height:15px;background:#ffffff"></div>
<div class="b" style="left:210px;top:264px;width:22px;height:15px;background:#ffffff"></div>
<div class="b" style="left:233px;top:264px;width:22px;height:15px;background:#ffffff"></div>
<div class="b" style="left:256px;top:264px;width:22px;height:15px;background:#ffffff"></div>
<div class="b" style="left:279px;top:264px;width:22px;height:15px;background:#ffffff"></div>
<div class="b" style="left:302px;top:264px;width:22px;height:15px;background:#ffffff"></div>
<div class="b" style="left:325px;top:264px;width:22px;height:15px;background:#ffffff"></div>
<div class="b" style="left:348px;top:264px;width:22px;height:15px;background:#ffffff"></div>
<div class="b" style="left:371px;top:264px;width:28px;height:15px;background:#ffff00"></div>
<div class="b" style="left:400px;top:264px;width:22px;height:15px;background:#ffffff"></div>
<div class="b" style="left:423px;top:264px;width:22px;height:15px;background:#ffffff"></div>
<div class="b" style="left:446px;top:264px;width:22px;height:15px;background:#ffffff"></div>
<div class="b" style="left:469px;top:264px;width:22px;height:15px;background:#ffffff"></div>
<div class="b" style="left:492px;top:264px;width:22px;height:15px;background:#ffffff"></div>
<div class="b" style="left:515px;top:264px;width:22px;height:15px;background:#ffffff"></div>
<div class="b" style="left:538px;top:264px;width:22px;height:15px;background:#ffffff"></div>
<div class="b" style="left:561px;top:264px;width:22px;height:15px;background:#ffffff"></div>
<div class="b" style="left:584px;top:264px;width:22px;height:15px;background:#ffffff"></div>
<div class="b" style="left:607px;top:264px;width:28px;height:15px;background:#ffff00"></div>
<div class="b" style="left:636px;top:264px;width:35px;height:15px;background:#0000ff"></div>
<div class="b" style="left:672px;top:264px;width:30px;height:15px;background:#00ffff"></div>
<div class="b" style="left:703px;top:264px;width:35px;height:15px;background:#ff99cc"></div>
<div class="b" style="left:739px;top:264px;width:30px;height:15px;background:#00ffff"></div>
<div class="b" style="left:770px;top:264px;width:20px;height:15px;background:#ffffff"></div>
<div class="b" style="left:791px;top:264px;width:27px;height:15px;background:#ffff00"></div>
<div class="b" style="left:819px;top:264px;width:28px;height:15px;background:#ffffff"></div>
<div class="b" style="left:848px;top:264px;width:28px;height:15px;background:#ccffff"></div>
<div class="b" style="left:877px;top:264px;width:28px;height:15px;background:#ccffff"></div>
<div class="b" style="left:10px;top:280px;width:27px;height:15px;background:#ccffff"></div>
<div class="b" style="left:38px;top:280px;width:97px;height:15px;background:#ccffff"></div>
<div class="b" style="left:136px;top:280px;width:27px;height:15px;background:#ccffff"></div>
<div class="b" style="left:164px;top:280px;width:22px;height:15px;background:#ffffff"></div>
<div class="b" style="left:187px;top:280px;width:22px;height:15px;background:#ffffff"></div>
<div class="b" style="left:210px;top:280px;width:22px;height:15px;background:#ffff99"></div>
<div class="b" style="left:233px;top:280px;width:22px;height:15px;background:#ffffff"></div>
<div class="b" style="left:256px;top:280px;width:22px;height:15px;background:#ffffff"></div>
<div class="b" style="left:279px;top:280px;width:22px;height:15px;background:#ffff99"></div>
<div class="b" style="left:302px;top:280px;width:22px;height:15px;background:#ffffff"></div>
<div class="b" style="left:325px;top:280px;width:22px;height:15px;background:#ffffff"></div>
<div class="b" style="left:348px;top:280px;width:22px;height:15px;background:#ffffff"></div>
<div class="b" style="left:371px;top:280px;width:28px;height:15px;background:#ffff00"></div>
<div class="b" style="left:400px;top:280px;width:22px;height:15px;background:#ffffff"></div>
<div class="b" style="left:423px;top:280px;width:22px;height:15px;background:#ffffff"></div>
<div class="b" style="left:446px;top:280px;width:22px;height:15px;background:#ffff99"></div>
<div class="b" style="left:469px;top:280px;width:22px;height:15px;background:#ffffff"></div>
<div class="b" style="left:492px;top:280px;width:22px;height:15px;background:#ffffff"></div>
<div class="b" style="left:515px;top:280px;width:22px;height:15px;background:#ffffff"></div>
<div class="b" style="left:538px;top:280px;width:22px;height:15px;background:#ffffff"></div>
<div class="b" style="left:561px;top:280px;width:22px;height:15px;background:#ffffff"></div>
<div class="b" style="left:584px;top:280px;width:22px;height:15px;background:#ffffff"></div>
<div class="b" style="left:607px;top:280px;width:28px;height:15px;background:#ffff00"></div>
<div class="b" style="left:636px;top:280px;width:35px;height:15px;background:#0000ff"></div>
<div class="b" style="left:672px;top:280px;width:30px;height:15px;background:#00ffff"></div>
<div class="b" style="left:703px;top:280px;width:35px;height:15px;background:#ff99cc"></div>
<div class="b" style="left:739px;top:280px;width:30px;height:15px;background:#00ffff"></div>
<div class="b" style="left:770px;top:280px;width:20px;height:15px;background:#ffffff"></div>
<div class="b" style="left:791px;top:280px;width:27px;height:15px;background:#ffff00"></div>
<div class="b" style="left:819px;top:280px;width:28px;height:15px;background:#ffffff"></div>
<div class="b" style="left:848px;top:280px;width:28px;height:15px;background:#ccffff"></div>
<div class="b" style="left:877px;top:280px;width:28px;height:15px;background:#ccffff"></div>
<div class="b" style="left:10px;top:296px;width:27px;height:15px;background:#ccffff"></div>
<div class="b" style="left:38px;top:296px;width:97px;height:15px;background:#ccffff"></div>
<div class="b" style="left:136px;top:296px;width:27px;height:15px;background:#ccffff"></div>
<div class="b" style="left:164px;top:296px;width:22px;height:15px;background:#ffffff"></div>
<div class="b" style="left:187px;top:296px;width:22px;height:15px;background:#ffffff"></div>
<div class="b" style="left:210px;top:296px;width:22px;height:15px;background:#ffffff"></div>
<div class="b" style="left:233px;top:296px;width:22px;height:15px;background:#ffffff"></div>
<div class="b" style="left:256px;top:296px;width:22px;height:15px;background:#ffffff"></div>
<div class="b" style="left:279px;top:296px;width:22px;height:15px;background:#ffffff"></div>
<div class="b" style="left:302px;top:296px;width:22px;height:15px;background:#ffffff"></div>
<div class="b" style="left:325px;top:296px;width:22px;height:15px;background:#ffffff"></div>
<div class="b" style="left:348px;top:296px;width:22px;height:15px;background:#ffffff"></div>
<div class="b" style="left:371px;top:296px;width:28px;height:15px;background:#ffff00"></div>
<div class="b" style="left:400px;top:296px;width:22px;height:15px;background:#ffffff"></div>
<div class="b" style="left:423px;top:296px;width:22px;height:15px;background:#ffffff"></div>
<div class="b" style="left:446px;top:296px;width:22px;height:15px;background:#ffffff"></div>
<div class="b" style="left:469px;top:296px;width:22px;height:15px;background:#ffffff"></div>
<div class="b" style="left:492px;top:296px;width:22px;height:15px;background:#ffffff"></div>
<div class="b" style="left:515px;top:296px;width:22px;height:15px;background:#ffffff"></div>
<div class="b" style="left:538px;top:296px;width:22px;height:15px;background:#ffffff"></div>
<div class="b" style="left:561px;top:296px;width:22px;height:15px;background:#ffffff"></div>
<div class="b" style="left:584px;top:296px;width:22px;height:15px;background:#ffffff"></div>
<div class="b" style="left:607px;top:296px;width:28px;height:15px;background:#ffff00"></div>
<div class="b" style="left:636px;top:296px;width:35px;height:15px;background:#0000ff"></div>
<div class="b" style="left:672px;top:296px;width:30px;height:15px;background:#00ffff"></div>
<div class="b" style="left:703px;top:296px;width:35px;height:15px;background:#ff99cc"></div>
<div class="b" style="left:739px;top:296px;width:30px;height:15px;background:#00ffff"></div>
<div class="b" style="left:770px;top:296px;width:20px;height:15px;background:#ffffff"></div>
<div class="b" style="left:791px;top:296px;width:27px;height:15px;background:#ffff00"></div>
<div class="b" style="left:819px;top:296px;width:28px;height:15px;background:#ffffff"></div>
<div class="b" style="left:848px;top:296px;width:28px;height:15px;background:#ccffff"></div>
<div class="b" style="left:877px;top:296px;width:28px;height:15px;background:#ccffff"></div>
<div class="b" style="left:10px;top:312px;width:27px;height:15px;background:#ccffff"></div>
<div class="b" style="left:38px;top:312px;width:97px;height:15px;background:#ccffff"></div>
<div class="b" style="left:136px;top:312px;width:27px;height:15px;background:#ccffff"></div>
<div class="b" style="left:164px;top:312px;width:22px;height:15px;background:#ffffff"></div>
<div class="b" style="left:187px;top:312px;width:22px;height:15px;background:#ffffff"></div>
<div class="b" style="left:210px;top:312px;width:22px;height:15px;background:#ffffff"></div>
<div class="b" style="left:233px;top:312px;width:22px;height:15px;background:#ffffff"></div>
<div class="b" style="left:256px;top:312px;width:22px;height:15px;background:#ffffff"></div>
<div class="b" style="left:279px;top:312px;width:22px;height:15px;background:#ffffff"></div>
<div class="b" style="left:302px;top:312px;width:22px;height:15px;background:#ffffff"></div>
<div class="b" style="left:325px;top:312px;width:22px;height:15px;background:#ffffff"></div>
<div class="b" style="left:348px;top:312px;width:22px;height:15px;background:#ffffff"></div>
<div class="b" style="left:371px;top:312px;width:28px;height:15px;background:#ffff00"></div>
<div class="b" style="left:400px;top:312px;width:22px;height:15px;background:#ffffff"></div>
<div class="b" style="left:423px;top:312px;width:22px;height:15px;background:#ffffff"></div>
<div class="b" style="left:446px;top:312px;width:22px;height:15px;background:#ffffff"></div>
<div class="b" style="left:469px;top:312px;width:22px;height:15px;background:#ffffff"></div>
<div class="b" style="left:492px;top:312px;width:22px;height:15px;background:#ffffff"></div>
<div class="b" style="left:515px;top:312px;width:22px;height:15px;background:#ffffff"></div>
<div class="b" style="left:538px;top:312px;width:22px;height:15px;background:#ffffff"></div>
<div class="b" style="left:561px;top:312px;width:22px;height:15px;background:#ffffff"></div>
<div class="b" style="left:584px;top:312px;width:22px;height:15px;background:#ffffff"></div>
<div class="b" style="left:607px;top:312px;width:28px;height:15px;background:#ffff00"></div>
<div class="b" style="left:636px;top:312px;width:35px;height:15px;background:#0000ff"></div>
<div class="b" style="left:672px;top:312px;width:30px;height:15px;background:#00ffff"></div>
<div class="b" style="left:703px;top:312px;width:35px;height:15px;background:#ff99cc"></div>
<div class="b" style="left:739px;top:312px;width:30px;height:15px;background:#00ffff"></div>
<div class="b" style="left:770px;top:312px;width:20px;height:15px;background:#ffffff"></div>
<div class="b" style="left:791px;top:312px;width:27px;height:15px;background:#ffff00"></div>
<div class="b" style="left:819px;top:312px;width:28px;height:15px;background:#ffffff"></div>
<div class="b" style="left:848px;top:312px;width:28px;height:15px;background:#ccffff"></div>
<div class="b" style="left:877px;top:312px;width:28px;height:15px;background:#ccffff"></div>
<div class="b" style="left:10px;top:328px;width:27px;height:15px;background:#ccffff"></div>
<div class="b" style="left:38px;top:328px;width:97px;height:15px;background:#ccffff"></div>
<div class="b" style="left:136px;top:328px;width:27px;height:15px;background:#ccffff"></div>
<div class="b" style="left:164px;top:328px;width:22px;height:15px;background:#ffffff"></div>
<div class="b" style="left:187px;top:328px;width:22px;height:15px;background:#ffffff"></div>
<div class="b" style="left:210px;top:328px;width:22px;height:15px;background:#ffffff"></div>
<div class="b" style="left:233px;top:328px;width:22px;height:15px;background:#ffffff"></div>
<div class="b" style="left:256px;top:328px;width:22px;height:15px;background:#ffffff"></div>
<div class="b" style="left:279px;top:328px;width:22px;height:15px;background:#ffffff"></div>
<div class="b" style="left:302px;top:328px;width:22px;height:15px;background:#ffffff"></div>
<div class="b" style="left:325px;top:328px;width:22px;height:15px;background:#ffffff"></div>
<div class="b" style="left:348px;top:328px;width:22px;height:15px;background:#ffffff"></div>
<div class="b" style="left:371px;top:328px;width:28px;height:15px;background:#ffff00"></div>
<div class="b" style="left:400px;top:328px;width:22px;height:15px;background:#ffffff"></div>
<div class="b" style="left:423px;top:328px;width:22px;height:15px;background:#ffffff"></div>
<div class="b" style="left:446px;top:328px;width:22px;height:15px;background:#ffffff"></div>
<div class="b" style="left:469px;top:328px;width:22px;height:15px;background:#ffffff"></div>
<div class="b" style="left:492px;top:328px;width:22px;height:15px;background:#ffffff"></div>
<div class="b" style="left:515px;top:328px;width:22px;height:15px;background:#ffffff"></div>
<div class="b" style="left:538px;top:328px;width:22px;height:15px;background:#ffffff"></div>
<div class="b" style="left:561px;top:328px;width:22px;height:15px;background:#ffffff"></div>
<div class="b" style="left:584px;top:328px;width:22px;height:15px;background:#ffffff"></div>
<div class="b" style="left:607px;top:328px;width:28px;height:15px;background:#ffff00"></div>
<div class="b" style="left:636px;top:328px;width:35px;height:15px;background:#0000ff"></div>
<div class="b" style="left:672px;top:328px;width:30px;height:15px;background:#00ffff"></div>
<div class="b" style="left:703px;top:328px;width:35px;height:15px;background:#ff99cc"></div>
<div class="b" style="left:739px;top:328px;width:30px;height:15px;background:#00ffff"></div>
<div class="b" style="left:770px;top:328px;width:20px;height:15px;background:#ffffff"></div>
<div class="b" style="left:791px;top:328px;width:27px;height:15px;background:#ffff00"></div>
<div class="b" style="left:819px;top:328px;width:28px;height:15px;background:#ffffff"></div>
<div class="b" style="left:848px;top:328px;width:28px;height:15px;background:#ccffff"></div>
<div class="b" style="left:877px;top:328px;width:28px;height:15px;background:#ccffff"></div>
<div class="b" style="left:10px;top:344px;width:27px;height:15px;background:#ccffff"></div>
<div class="b" style="left:38px;top:344px;width:97px;height:15px;background:#ccffff"></div>
<div class="b" style="left:136px;top:344px;width:27px;height:15px;background:#ccffff"></div>
<div class="b" style="left:164px;top:344px;width:22px;height:15px;background:#ffffff"></div>
<div class="b" style="left:187px;top:344px;width:22px;height:15px;background:#ffffff"></div>
<div class="b" style="left:210px;top:344px;width:22px;height:15px;background:#ffffff"></div>
<div class="b" style="left:233px;top:344px;width:22px;height:15px;background:#ffffff"></div>
<div class="b" style="left:256px;top:344px;width:22px;height:15px;background:#ffffff"></div>
<div class="b" style="left:279px;top:344px;width:22px;height:15px;background:#ffffff"></div>
<div class="b" style="left:302px;top:344px;width:22px;height:15px;background:#ffffff"></div>
<div class="b" style="left:325px;top:344px;width:22px;height:15px;background:#ffffff"></div>
<div class="b" style="left:348px;top:344px;width:22px;height:15px;background:#ffffff"></div>
<div class="b" style="left:371px;top:344px;width:28px;height:15px;background:#ffff00"></div>
<div class="b" style="left:400px;top:344px;width:22px;height:15px;background:#ffffff"></div>
<div class="b" style="left:423px;top:344px;width:22px;height:15px;background:#ffffff"></div>
<div class="b" style="left:446px;top:344px;width:22px;height:15px;background:#ffffff"></div>
<div class="b" style="left:469px;top:344px;width:22px;height:15px;background:#ffffff"></div>
<div class="b" style="left:492px;top:344px;width:22px;height:15px;background:#ffffff"></div>
<div class="b" style="left:515px;top:344px;width:22px;height:15px;background:#ffffff"></div>
<div class="b" style="left:538px;top:344px;width:22px;height:15px;background:#ffffff"></div>
<div class="b" style="left:561px;top:344px;width:22px;height:15px;background:#ffffff"></div>
<div class="b" style="left:584px;top:344px;width:22px;height:15px;background:#ffffff"></div>
<div class="b" style="left:607px;top:344px;width:28px;height:15px;background:#ffff00"></div>
<div class="b" style="left:636px;top:344px;width:35px;height:15px;background:#0000ff"></div>
<div class="b" style="left:672px;top:344px;width:30px;height:15px;background:#00ffff"></div>
<div class="b" style="left:703px;top:344px;width:35px;height:15px;background:#ff99cc"></div>
<div class="b" style="left:739px;top:344px;width:30px;height:15px;background:#00ffff"></div>
<div class="b" style="left:770px;top:344px;width:20px;height:15px;background:#ffffff"></div>
<div class="b" style="left:791px;top:344px;width:27px;height:15px;background:#ffff00"></div>
<div class="b" style="left:819px;top:344px;width:28px;height:15px;background:#ffffff"></div>
<div class="b" style="left:848px;top:344px;width:28px;height:15px;background:#ccffff"></div>
<div class="b" style="left:877px;top:344px;width:28px;height:15px;background:#ccffff"></div>
<div class="b" style="left:10px;top:360px;width:27px;height:15px;background:#ccffff"></div>
<div class="b" style="left:38px;top:360px;width:97px;height:15px;background:#ccffff"></div>
<div class="b" style="left:136px;top:360px;width:27px;height:15px;background:#ccffff"></div>
<div class="b" style="left:164px;top:360px;width:22px;height:15px;background:#ffffff"></div>
<div class="b" style="left:187px;top:360px;width:22px;height:15px;background:#ffffff"></div>
<div class="b" style="left:210px;top:360px;width:22px;height:15px;background:#ffffff"></div>
<div class="b" style="left:233px;top:360px;width:22px;height:15px;background:#ffffff"></div>
<div class="b" style="left:256px;top:360px;width:22px;height:15px;background:#ffffff"></div>
<div class="b" style="left:279px;top:360px;width:22px;height:15px;background:#ffffff"></div>
<div class="b" style="left:302px;top:360px;width:22px;height:15px;background:#ffffff"></div>
<div class="b" style="left:325px;top:360px;width:22px;height:15px;background:#ffffff"></div>
<div class="b" style="left:348px;top:360px;width:22px;height:15px;background:#ffffff"></div>
<div class="b" style="left:371px;top:360px;width:28px;height:15px;background:#ffff00"></div>
<div class="b" style="left:400px;top:360px;width:22px;height:15px;background:#ffffff"></div>
<div class="b" style="left:423px;top:360px;width:22px;height:15px;background:#ffffff"></div>
<div class="b" style="left:446px;top:360px;width:22px;height:15px;background:#ffffff"></div>
<div class="b" style="left:469px;top:360px;width:22px;height:15px;background:#ffffff"></div>
<div class="b" style="left:492px;top:360px;width:22px;height:15px;background:#ffffff"></div>
<div class="b" style="left:515px;top:360px;width:22px;height:15px;background:#ffffff"></div>
<div class="b" style="left:538px;top:360px;width:22px;height:15px;background:#ffffff"></div>
<div class="b" style="left:561px;top:360px;width:22px;height:15px;background:#ffffff"></div>
<div class="b" style="left:584px;top:360px;width:22px;height:15px;background:#ffffff"></div>
<div class="b" style="left:607px;top:360px;width:28px;height:15px;background:#ffff00"></div>
<div class="b" style="left:636px;top:360px;width:35px;height:15px;background:#0000ff"></div>
<div class="b" style="left:672px;top:360px;width:30px;height:15px;background:#00ffff"></div>
<div class="b" style="left:703px;top:360px;width:35px;height:15px;background:#ff99cc"></div>
<div class="b" style="left:739px;top:360px;width:30px;height:15px;background:#00ffff"></div>
<div class="b" style="left:770px;top:360px;width:20px;height:15px;background:#ffffff"></div>
<div class="b" style="left:791px;top:360px;width:27px;height:15px;background:#ffff00"></div>
<div class="b" style="left:819px;top:360px;width:28px;height:15px;background:#ffffff"></div>
<div class="b" style="left:848px;top:360px;width:28px;height:15px;background:#ccffff"></div>
<div class="b" style="left:877px;top:360px;width:28px;height:15px;background:#ccffff"></div>
<div class="b" style="left:10px;top:376px;width:27px;height:15px;background:#ccffff"></div>
<div class="b" style="left:38px;top:376px;width:97px;height:15px;background:#ccffff"></div>
<div class="b" style="left:136px;top:376px;width:27px;height:15px;background:#ccffff"></div>
<div class="b" style="left:164px;top:376px;width:22px;height:15px;background:#ffffff"></div>
<div class="b" style="left:187px;top:376px;width:22px;height:15px;background:#ffffff"></div>
<div class="b" style="left:210px;top:376px;width:22px;height:15px;background:#ffffff"></div>
<div class="b" style="left:233px;top:376px;width:22px;height:15px;background:#ffffff"></div>
<div class="b" style="left:256px;top:376px;width:22px;height:15px;background:#ffffff"></div>
<div class="b" style="left:279px;top:376px;width:22px;height:15px;background:#ffffff"></div>
<div class="b" style="left:302px;top:376px;width:22px;height:15px;background:#ffffff"></div>
<div class="b" style="left:325px;top:376px;width:22px;height:15px;background:#ffffff"></div>
<div class="b" style="left:348px;top:376px;width:22px;height:15px;background:#ffffff"></div>
<div class="b" style="left:371px;top:376px;width:28px;height:15px;background:#ffff00"></div>
<div class="b" style="left:400px;top:376px;width:22px;height:15px;background:#ffffff"></div>
<div class="b" style="left:423px;top:376px;width:22px;height:15px;background:#ffffff"></div>
<div class="b" style="left:446px;top:376px;width:22px;height:15px;background:#ffffff"></div>
<div class="b" style="left:469px;top:376px;width:22px;height:15px;background:#ffffff"></div>
<div class="b" style="left:492px;top:376px;width:22px;height:15px;background:#ffffff"></div>
<div class="b" style="left:515px;top:376px;width:22px;height:15px;background:#ffffff"></div>
<div class="b" style="left:538px;top:376px;width:22px;height:15px;background:#ffffff"></div>
<div class="b" style="left:561px;top:376px;width:22px;height:15px;background:#ffffff"></div>
<div class="b" style="left:584px;top:376px;width:22px;height:15px;background:#ffffff"></div>
<div class="b" style="left:607px;top:376px;width:28px;height:15px;background:#ffff00"></div>
<div class="b" style="left:636px;top:376px;width:35px;height:15px;background:#0000ff"></div>
<div class="b" style="left:672px;top:376px;width:30px;height:15px;background:#00ffff"></div>
<div class="b" style="left:703px;top:376px;width:35px;height:15px;background:#ff99cc"></div>
<div class="b" style="left:739px;top:376px;width:30px;height:15px;background:#00ffff"></div>
<div class="b" style="left:770px;top:376px;width:20px;height:15px;background:#ffffff"></div>
<div class="b" style="left:791px;top:376px;width:27px;height:15px;background:#ffff00"></div>
<div class="b" style="left:819px;top:376px;width:28px;height:15px;background:#ffffff"></div>
<div class="b" style="left:848px;top:376px;width:28px;height:15px;background:#ccffff"></div>
<div class="b" style="left:877px;top:376px;width:28px;height:15px;background:#ccffff"></div>
<div class="b" style="left:10px;top:460px;width:27px;height:15px;background:#ffcc00"></div>
<div class="b" style="left:38px;top:460px;width:97px;height:15px;background:#ffffff"></div>
<div class="b" style="left:136px;top:460px;width:27px;height:15px;background:#ffcc00"></div>
<div class="b" style="left:164px;top:460px;width:91px;height:15px;background:#ffffff"></div>
<div class="b" style="left:256px;top:460px;width:22px;height:15px;background:#ffcc00"></div>
<div class="b" style="left:279px;top:460px;width:91px;height:15px;background:#ffffff"></div>
<div class="b" style="left:371px;top:460px;width:28px;height:15px;background:#ffcc00"></div>
<div class="b" style="left:400px;top:460px;width:91px;height:15px;background:#ffffff"></div>
<div class="b" style="left:538px;top:460px;width:22px;height:15px;background:#00ffff"></div>
<div class="b" style="left:561px;top:460px;width:110px;height:15px;background:#ffffff"></div>
<div class="tl">
<div class="t " style="left:10px;top:57px;width:27px"><span style="display:inline-block;transform:scaleX(0.944);transform-origin:center">NO</span></div>
<div class="t " style="left:38px;top:57px;width:97px"><span style="display:inline-block;transform:scaleX(0.936);transform-origin:center">NAME</span></div>
<div class="t " style="left:136px;top:57px;width:27px"><span style="display:inline-block;transform:scaleX(0.895);transform-origin:center">TEE</span></div>
<div class="t bd hd n" style="left:164px;top:57px;width:22px">1</div>
<div class="t bd hd n" style="left:187px;top:57px;width:22px">2</div>
<div class="t bd hd n" style="left:210px;top:57px;width:22px">3</div>
<div class="t bd hd n" style="left:233px;top:57px;width:22px">4</div>
<div class="t bd hd n" style="left:256px;top:57px;width:22px">5</div>
<div class="t bd hd n" style="left:279px;top:57px;width:22px">6</div>
<div class="t bd hd n" style="left:302px;top:57px;width:22px">7</div>
<div class="t bd hd n" style="left:325px;top:57px;width:22px">8</div>
<div class="t bd hd n" style="left:348px;top:57px;width:22px">9</div>
<div class="t " style="left:371px;top:57px;width:28px"><span style="display:inline-block;transform:scaleX(0.923);transform-origin:center">OUT</span></div>
<div class="t bd hd" style="left:400px;top:57px;width:22px"><span style="letter-spacing:1.2px;margin-right:-1.2px">10</span></div>
<div class="t bd hd" style="left:423px;top:57px;width:22px"><span style="letter-spacing:1.2px;margin-right:-1.2px">11</span></div>
<div class="t bd hd" style="left:446px;top:57px;width:22px"><span style="letter-spacing:1.2px;margin-right:-1.2px">12</span></div>
<div class="t bd hd" style="left:469px;top:57px;width:22px"><span style="letter-spacing:1.2px;margin-right:-1.2px">13</span></div>
<div class="t bd hd" style="left:492px;top:57px;width:22px"><span style="letter-spacing:1.2px;margin-right:-1.2px">14</span></div>
<div class="t bd hd" style="left:515px;top:57px;width:22px"><span style="letter-spacing:1.2px;margin-right:-1.2px">15</span></div>
<div class="t bd hd" style="left:538px;top:57px;width:22px"><span style="letter-spacing:1.2px;margin-right:-1.2px">16</span></div>
<div class="t bd hd" style="left:561px;top:57px;width:22px"><span style="letter-spacing:1.2px;margin-right:-1.2px">17</span></div>
<div class="t bd hd" style="left:584px;top:57px;width:22px"><span style="letter-spacing:1.2px;margin-right:-1.2px">18</span></div>
<div class="t " style="left:607px;top:57px;width:28px"><span style="display:inline-block;transform:scaleX(0.971);transform-origin:center">IN</span></div>
<div class="t bd wt" style="left:636px;top:57px;width:35px"><span style="display:inline-block;transform:scaleX(1.031);transform-origin:center">GRS</span></div>
<div class="t " style="left:672px;top:57px;width:30px"><span style="display:inline-block;transform:scaleX(1.191);transform-origin:center">H/C</span></div>
<div class="t bd" style="left:703px;top:57px;width:35px"><span style="display:inline-block;transform:scaleX(1.001);transform-origin:center">NET</span></div>
<div class="t " style="left:739px;top:57px;width:30px"><span style="display:inline-block;transform:scaleX(1.114);transform-origin:center">PAT</span></div>
<div class="t " style="left:770px;top:57px;width:20px"><span style="display:inline-block;transform:scaleX(1.006);transform-origin:center">Q</span></div>
<div class="t " style="left:791px;top:57px;width:27px"><span style="display:inline-block;transform:scaleX(1.033);transform-origin:center">RRI</span></div>
<div class="t " style="left:819px;top:57px;width:28px"><span style="display:inline-block;transform:scaleX(0.971);transform-origin:center">PEN</span></div>
<div class="t sm" style="left:848px;top:57px;width:57px"><span style="display:inline-block;transform:scaleX(0.968);transform-origin:center">ORIGINAL</span></div>
<div class="t bd n" style="left:164px;top:73px;width:22px">5</div>
<div class="t bd n" style="left:187px;top:73px;width:22px">4</div>
<div class="t bd n" style="left:210px;top:73px;width:22px">4</div>
<div class="t bd n" style="left:233px;top:73px;width:22px">3</div>
<div class="t bd n" style="left:256px;top:73px;width:22px">4</div>
<div class="t bd n" style="left:279px;top:73px;width:22px">4</div>
<div class="t bd n" style="left:302px;top:73px;width:22px">3</div>
<div class="t bd n" style="left:325px;top:73px;width:22px">4</div>
<div class="t bd n" style="left:348px;top:73px;width:22px">5</div>
<div class="t bd n" style="left:400px;top:73px;width:22px">5</div>
<div class="t bd n" style="left:423px;top:73px;width:22px">4</div>
<div class="t bd n" style="left:446px;top:73px;width:22px">3</div>
<div class="t bd n" style="left:469px;top:73px;width:22px">4</div>
<div class="t bd n" style="left:492px;top:73px;width:22px">4</div>
<div class="t bd n" style="left:515px;top:73px;width:22px">5</div>
<div class="t bd n" style="left:538px;top:73px;width:22px">4</div>
<div class="t bd n" style="left:561px;top:73px;width:22px">3</div>
<div class="t bd n" style="left:584px;top:73px;width:22px">4</div>
<div class="t sm" style="left:848px;top:73px;width:28px"><span style="display:inline-block;transform:scaleX(1.167);transform-origin:center">H/C</span></div>
<div class="t sm" style="left:877px;top:73px;width:28px"><span style="display:inline-block;transform:scaleX(0.987);transform-origin:center">NET</span></div>
<div class="t n" style="left:10px;top:89px;width:27px">1</div>
<div class="t nm" style="left:38px;top:89px;width:97px"><span style="display:inline-block;transform:scaleX(0.952);transform-origin:left">KAMINO</span></div>
<div class="t bl n" style="left:136px;top:89px;width:27px">B</div>
<div class="t n" style="left:164px;top:89px;width:22px">6</div>
<div class="t n" style="left:187px;top:89px;width:22px">5</div>
<div class="t n" style="left:210px;top:89px;width:22px">5</div>
<div class="t n" style="left:233px;top:89px;width:22px">3</div>
<div class="t n" style="left:256px;top:89px;width:22px">4</div>
<div class="t n" style="left:279px;top:89px;width:22px">5</div>
<div class="t n" style="left:302px;top:89px;width:22px">5</div>
<div class="t n" style="left:325px;top:89px;width:22px">5</div>
<div class="t n" style="left:348px;top:89px;width:22px">4</div>
<div class="t n" style="left:371px;top:89px;width:28px">42</div>
<div class="t n" style="left:400px;top:89px;width:22px">4</div>
<div class="t n" style="left:423px;top:89px;width:22px">5</div>
<div class="t n" style="left:446px;top:89px;width:22px">4</div>
<div class="t n" style="left:469px;top:89px;width:22px">4</div>
<div class="t n" style="left:492px;top:89px;width:22px">5</div>
<div class="t n" style="left:515px;top:89px;width:22px">6</div>
<div class="t n" style="left:538px;top:89px;width:22px">4</div>
<div class="t n" style="left:561px;top:89px;width:22px">5</div>
<div class="t n" style="left:584px;top:89px;width:22px">5</div>
<div class="t n" style="left:607px;top:89px;width:28px">42</div>
<div class="t bd wt" style="left:636px;top:89px;width:35px"><span style="display:inline-block;transform:scaleX(1.12);letter-spacing:0.3px;margin-right:-0.3px">84</span></div>
<div class="t n" style="left:672px;top:89px;width:30px">14</div>
<div class="t bd" style="left:703px;top:89px;width:35px"><span style="display:inline-block;transform:scaleX(1.12);letter-spacing:0.3px;margin-right:-0.3px">70</span></div>
<div class="t n" style="left:739px;top:89px;width:30px">28</div>
<div class="t n" style="left:770px;top:89px;width:20px">Y</div>
<div class="t n" style="left:791px;top:89px;width:27px">$40</div>
<div class="t n" style="left:848px;top:89px;width:28px">15</div>
<div class="t n" style="left:877px;top:89px;width:28px">69</div>
<div class="t n" style="left:10px;top:105px;width:27px">2</div>
<div class="t nm" style="left:38px;top:105px;width:97px"><span style="display:inline-block;transform:scaleX(1.037);transform-origin:left">ITO</span></div>
<div class="t bl n" style="left:136px;top:105px;width:27px">B</div>
<div class="t n" style="left:164px;top:105px;width:22px">6</div>
<div class="t n" style="left:187px;top:105px;width:22px">7</div>
<div class="t n" style="left:210px;top:105px;width:22px">4</div>
<div class="t n" style="left:233px;top:105px;width:22px">5</div>
<div class="t n" style="left:256px;top:105px;width:22px">4</div>
<div class="t n" style="left:279px;top:105px;width:22px">4</div>
<div class="t n" style="left:302px;top:105px;width:22px">4</div>
<div class="t n" style="left:325px;top:105px;width:22px">5</div>
<div class="t n" style="left:348px;top:105px;width:22px">5</div>
<div class="t n" style="left:371px;top:105px;width:28px">44</div>
<div class="t n" style="left:400px;top:105px;width:22px">5</div>
<div class="t n" style="left:423px;top:105px;width:22px">5</div>
<div class="t n" style="left:446px;top:105px;width:22px">4</div>
<div class="t n" style="left:469px;top:105px;width:22px">4</div>
<div class="t n" style="left:492px;top:105px;width:22px">5</div>
<div class="t n" style="left:515px;top:105px;width:22px">5</div>
<div class="t n" style="left:538px;top:105px;width:22px">5</div>
<div class="t n" style="left:561px;top:105px;width:22px">5</div>
<div class="t n" style="left:584px;top:105px;width:22px">5</div>
<div class="t n" style="left:607px;top:105px;width:28px">43</div>
<div class="t bd wt" style="left:636px;top:105px;width:35px"><span style="display:inline-block;transform:scaleX(1.12);letter-spacing:0.3px;margin-right:-0.3px">87</span></div>
<div class="t n" style="left:672px;top:105px;width:30px">15</div>
<div class="t bd" style="left:703px;top:105px;width:35px"><span style="display:inline-block;transform:scaleX(1.12);letter-spacing:0.3px;margin-right:-0.3px">72</span></div>
<div class="t n" style="left:739px;top:105px;width:30px">30</div>
<div class="t n" style="left:770px;top:105px;width:20px">Y</div>
<div class="t n" style="left:791px;top:105px;width:27px">$20</div>
<div class="t n" style="left:848px;top:105px;width:28px">15</div>
<div class="t n" style="left:877px;top:105px;width:28px">72</div>
<div class="t n" style="left:10px;top:121px;width:27px">3</div>
<div class="t nm" style="left:38px;top:121px;width:97px"><span style="display:inline-block;transform:scaleX(0.949);transform-origin:left">FURUYAMA</span></div>
<div class="t bl n" style="left:136px;top:121px;width:27px">B</div>
<div class="t n" style="left:164px;top:121px;width:22px">5</div>
<div class="t n" style="left:187px;top:121px;width:22px">7</div>
<div class="t n" style="left:210px;top:121px;width:22px">4</div>
<div class="t n" style="left:233px;top:121px;width:22px">5</div>
<div class="t n" style="left:256px;top:121px;width:22px">4</div>
<div class="t n" style="left:279px;top:121px;width:22px">5</div>
<div class="t n" style="left:302px;top:121px;width:22px">5</div>
<div class="t n" style="left:325px;top:121px;width:22px">5</div>
<div class="t n" style="left:348px;top:121px;width:22px">5</div>
<div class="t n" style="left:371px;top:121px;width:28px">45</div>
<div class="t n" style="left:400px;top:121px;width:22px">5</div>
<div class="t n" style="left:423px;top:121px;width:22px">5</div>
<div class="t n" style="left:446px;top:121px;width:22px">3</div>
<div class="t n" style="left:469px;top:121px;width:22px">5</div>
<div class="t n" style="left:492px;top:121px;width:22px">6</div>
<div class="t n" style="left:515px;top:121px;width:22px">6</div>
<div class="t n" style="left:538px;top:121px;width:22px">5</div>
<div class="t n" style="left:561px;top:121px;width:22px">4</div>
<div class="t n" style="left:584px;top:121px;width:22px">4</div>
<div class="t n" style="left:607px;top:121px;width:28px">43</div>
<div class="t bd wt" style="left:636px;top:121px;width:35px"><span style="display:inline-block;transform:scaleX(1.12);letter-spacing:0.3px;margin-right:-0.3px">88</span></div>
<div class="t n" style="left:672px;top:121px;width:30px">14</div>
<div class="t bd" style="left:703px;top:121px;width:35px"><span style="display:inline-block;transform:scaleX(1.12);letter-spacing:0.3px;margin-right:-0.3px">74</span></div>
<div class="t n" style="left:739px;top:121px;width:30px">34</div>
<div class="t n" style="left:770px;top:121px;width:20px">Y</div>
<div class="t n" style="left:791px;top:121px;width:27px">$10</div>
<div class="t n" style="left:848px;top:121px;width:28px">14</div>
<div class="t n" style="left:877px;top:121px;width:28px">74</div>
<div class="t n" style="left:10px;top:137px;width:27px">4</div>
<div class="t nm" style="left:38px;top:137px;width:97px"><span style="display:inline-block;transform:scaleX(1.009);transform-origin:left">KATSUYA</span></div>
<div class="t bl n" style="left:136px;top:137px;width:27px">B</div>
<div class="t n" style="left:164px;top:137px;width:22px">6</div>
<div class="t n" style="left:187px;top:137px;width:22px">6</div>
<div class="t n" style="left:210px;top:137px;width:22px">6</div>
<div class="t n" style="left:233px;top:137px;width:22px">5</div>
<div class="t n" style="left:256px;top:137px;width:22px">4</div>
<div class="t n" style="left:279px;top:137px;width:22px">4</div>
<div class="t n" style="left:302px;top:137px;width:22px">4</div>
<div class="t n" style="left:325px;top:137px;width:22px">5</div>
<div class="t n" style="left:348px;top:137px;width:22px">6</div>
<div class="t n" style="left:371px;top:137px;width:28px">46</div>
<div class="t n" style="left:400px;top:137px;width:22px">7</div>
<div class="t n" style="left:423px;top:137px;width:22px">8</div>
<div class="t n" style="left:446px;top:137px;width:22px">4</div>
<div class="t n" style="left:469px;top:137px;width:22px">6</div>
<div class="t n" style="left:492px;top:137px;width:22px">6</div>
<div class="t n" style="left:515px;top:137px;width:22px">8</div>
<div class="t n" style="left:538px;top:137px;width:22px">6</div>
<div class="t n" style="left:561px;top:137px;width:22px">5</div>
<div class="t n" style="left:584px;top:137px;width:22px">3</div>
<div class="t n" style="left:607px;top:137px;width:28px">53</div>
<div class="t bd wt" style="left:636px;top:137px;width:35px"><span style="display:inline-block;transform:scaleX(1.12);letter-spacing:0.3px;margin-right:-0.3px">99</span></div>
<div class="t n" style="left:672px;top:137px;width:30px">25</div>
<div class="t bd" style="left:703px;top:137px;width:35px"><span style="display:inline-block;transform:scaleX(1.12);letter-spacing:0.3px;margin-right:-0.3px">74</span></div>
<div class="t n" style="left:739px;top:137px;width:30px">33</div>
<div class="t n" style="left:770px;top:137px;width:20px">Y</div>
<div class="t n" style="left:848px;top:137px;width:28px">30</div>
<div class="t n" style="left:877px;top:137px;width:28px">69</div>
<div class="t n" style="left:10px;top:153px;width:27px">5</div>
<div class="t nm" style="left:38px;top:153px;width:97px"><span style="display:inline-block;transform:scaleX(0.934);transform-origin:left">SAKANE</span></div>
<div class="t bl n" style="left:136px;top:153px;width:27px">B</div>
<div class="t n" style="left:164px;top:153px;width:22px">6</div>
<div class="t n" style="left:187px;top:153px;width:22px">5</div>
<div class="t n" style="left:210px;top:153px;width:22px">4</div>
<div class="t n" style="left:233px;top:153px;width:22px">3</div>
<div class="t n" style="left:256px;top:153px;width:22px">4</div>
<div class="t n" style="left:279px;top:153px;width:22px">4</div>
<div class="t n" style="left:302px;top:153px;width:22px">4</div>
<div class="t n" style="left:325px;top:153px;width:22px">5</div>
<div class="t n" style="left:348px;top:153px;width:22px">4</div>
<div class="t n" style="left:371px;top:153px;width:28px">39</div>
<div class="t n" style="left:400px;top:153px;width:22px">5</div>
<div class="t n" style="left:423px;top:153px;width:22px">7</div>
<div class="t n" style="left:446px;top:153px;width:22px">4</div>
<div class="t n" style="left:469px;top:153px;width:22px">4</div>
<div class="t n" style="left:492px;top:153px;width:22px">5</div>
<div class="t n" style="left:515px;top:153px;width:22px">5</div>
<div class="t n" style="left:538px;top:153px;width:22px">4</div>
<div class="t n" style="left:561px;top:153px;width:22px">3</div>
<div class="t n" style="left:584px;top:153px;width:22px">5</div>
<div class="t n" style="left:607px;top:153px;width:28px">42</div>
<div class="t bd wt" style="left:636px;top:153px;width:35px"><span style="display:inline-block;transform:scaleX(1.12);letter-spacing:0.3px;margin-right:-0.3px">81</span></div>
<div class="t n" style="left:672px;top:153px;width:30px">4</div>
<div class="t bd" style="left:703px;top:153px;width:35px"><span style="display:inline-block;transform:scaleX(1.12);letter-spacing:0.3px;margin-right:-0.3px">77</span></div>
<div class="t n" style="left:739px;top:153px;width:30px">31</div>
<div class="t n" style="left:770px;top:153px;width:20px">Y</div>
<div class="t n" style="left:848px;top:153px;width:28px">7</div>
<div class="t n" style="left:877px;top:153px;width:28px">74</div>
<div class="t n" style="left:10px;top:169px;width:27px">6</div>
<div class="t nm" style="left:38px;top:169px;width:97px"><span style="display:inline-block;transform:scaleX(0.875);transform-origin:left">TORU</span></div>
<div class="t bl n" style="left:136px;top:169px;width:27px">B</div>
<div class="t n" style="left:164px;top:169px;width:22px">5</div>
<div class="t n" style="left:187px;top:169px;width:22px">4</div>
<div class="t n" style="left:210px;top:169px;width:22px">5</div>
<div class="t n" style="left:233px;top:169px;width:22px">5</div>
<div class="t n" style="left:256px;top:169px;width:22px">4</div>
<div class="t n" style="left:279px;top:169px;width:22px">4</div>
<div class="t n" style="left:302px;top:169px;width:22px">5</div>
<div class="t n" style="left:325px;top:169px;width:22px">4</div>
<div class="t n" style="left:348px;top:169px;width:22px">5</div>
<div class="t n" style="left:371px;top:169px;width:28px">41</div>
<div class="t n" style="left:400px;top:169px;width:22px">5</div>
<div class="t n" style="left:423px;top:169px;width:22px">6</div>
<div class="t n" style="left:446px;top:169px;width:22px">4</div>
<div class="t n" style="left:469px;top:169px;width:22px">4</div>
<div class="t n" style="left:492px;top:169px;width:22px">5</div>
<div class="t n" style="left:515px;top:169px;width:22px">5</div>
<div class="t n" style="left:538px;top:169px;width:22px">6</div>
<div class="t n" style="left:561px;top:169px;width:22px">3</div>
<div class="t n" style="left:584px;top:169px;width:22px">5</div>
<div class="t n" style="left:607px;top:169px;width:28px">43</div>
<div class="t bd wt" style="left:636px;top:169px;width:35px"><span style="display:inline-block;transform:scaleX(1.12);letter-spacing:0.3px;margin-right:-0.3px">84</span></div>
<div class="t n" style="left:672px;top:169px;width:30px">5</div>
<div class="t bd" style="left:703px;top:169px;width:35px"><span style="display:inline-block;transform:scaleX(1.12);letter-spacing:0.3px;margin-right:-0.3px">79</span></div>
<div class="t n" style="left:739px;top:169px;width:30px">32</div>
<div class="t n" style="left:770px;top:169px;width:20px">Y</div>
<div class="t rd n" style="left:819px;top:169px;width:28px">$2</div>
<div class="t n" style="left:848px;top:169px;width:28px">9</div>
<div class="t n" style="left:877px;top:169px;width:28px">75</div>
<div class="t n" style="left:10px;top:185px;width:27px">7</div>
<div class="t nm" style="left:38px;top:185px;width:97px"><span style="display:inline-block;transform:scaleX(0.993);transform-origin:left">SHIBATA</span></div>
<div class="t n" style="left:136px;top:185px;width:27px">W</div>
<div class="t n" style="left:164px;top:185px;width:22px">7</div>
<div class="t n" style="left:187px;top:185px;width:22px">6</div>
<div class="t n" style="left:210px;top:185px;width:22px">5</div>
<div class="t n" style="left:233px;top:185px;width:22px">3</div>
<div class="t n" style="left:256px;top:185px;width:22px">5</div>
<div class="t n" style="left:279px;top:185px;width:22px">7</div>
<div class="t n" style="left:302px;top:185px;width:22px">4</div>
<div class="t n" style="left:325px;top:185px;width:22px">5</div>
<div class="t n" style="left:348px;top:185px;width:22px">9</div>
<div class="t n" style="left:371px;top:185px;width:28px">51</div>
<div class="t n" style="left:400px;top:185px;width:22px">6</div>
<div class="t n" style="left:423px;top:185px;width:22px">6</div>
<div class="t n" style="left:446px;top:185px;width:22px">3</div>
<div class="t n" style="left:469px;top:185px;width:22px">5</div>
<div class="t n" style="left:492px;top:185px;width:22px">5</div>
<div class="t n" style="left:515px;top:185px;width:22px">8</div>
<div class="t n" style="left:538px;top:185px;width:22px">6</div>
<div class="t n" style="left:561px;top:185px;width:22px">3</div>
<div class="t n" style="left:584px;top:185px;width:22px">5</div>
<div class="t n" style="left:607px;top:185px;width:28px">47</div>
<div class="t bd wt" style="left:636px;top:185px;width:35px"><span style="display:inline-block;transform:scaleX(1.12);letter-spacing:0.3px;margin-right:-0.3px">98</span></div>
<div class="t n" style="left:672px;top:185px;width:30px">18</div>
<div class="t bd" style="left:703px;top:185px;width:35px"><span style="display:inline-block;transform:scaleX(1.12);letter-spacing:0.3px;margin-right:-0.3px">80</span></div>
<div class="t n" style="left:739px;top:185px;width:30px">32</div>
<div class="t n" style="left:770px;top:185px;width:20px">Y</div>
<div class="t n" style="left:791px;top:185px;width:27px">$5</div>
<div class="t rd n" style="left:819px;top:185px;width:28px">$3</div>
<div class="t n" style="left:848px;top:185px;width:28px">18</div>
<div class="t n" style="left:877px;top:185px;width:28px">80</div>
<div class="t n" style="left:10px;top:200px;width:27px">8</div>
<div class="t nm" style="left:38px;top:200px;width:97px"><span style="display:inline-block;transform:scaleX(0.932);transform-origin:left">HIGA</span></div>
<div class="t bl n" style="left:136px;top:200px;width:27px">B</div>
<div class="t n" style="left:164px;top:200px;width:22px">7</div>
<div class="t n" style="left:187px;top:200px;width:22px">6</div>
<div class="t n" style="left:210px;top:200px;width:22px">6</div>
<div class="t n" style="left:233px;top:200px;width:22px">5</div>
<div class="t n" style="left:256px;top:200px;width:22px">4</div>
<div class="t n" style="left:279px;top:200px;width:22px">5</div>
<div class="t n" style="left:302px;top:200px;width:22px">4</div>
<div class="t n" style="left:325px;top:200px;width:22px">6</div>
<div class="t n" style="left:348px;top:200px;width:22px">8</div>
<div class="t n" style="left:371px;top:200px;width:28px">51</div>
<div class="t n" style="left:400px;top:200px;width:22px">7</div>
<div class="t n" style="left:423px;top:200px;width:22px">5</div>
<div class="t n" style="left:446px;top:200px;width:22px">3</div>
<div class="t n" style="left:469px;top:200px;width:22px">5</div>
<div class="t n" style="left:492px;top:200px;width:22px">5</div>
<div class="t n" style="left:515px;top:200px;width:22px">7</div>
<div class="t n" style="left:538px;top:200px;width:22px">6</div>
<div class="t n" style="left:561px;top:200px;width:22px">5</div>
<div class="t n" style="left:584px;top:200px;width:22px">6</div>
<div class="t n" style="left:607px;top:200px;width:28px">49</div>
<div class="t bd wt" style="left:636px;top:200px;width:35px"><span style="display:inline-block;transform:scaleX(1.08);letter-spacing:0.0px;margin-right:-0.0px">100</span></div>
<div class="t n" style="left:672px;top:200px;width:30px">20</div>
<div class="t bd" style="left:703px;top:200px;width:35px"><span style="display:inline-block;transform:scaleX(1.12);letter-spacing:0.3px;margin-right:-0.3px">80</span></div>
<div class="t n" style="left:739px;top:200px;width:30px">35</div>
<div class="t n" style="left:770px;top:200px;width:20px">Y</div>
<div class="t rd n" style="left:819px;top:200px;width:28px">$3</div>
<div class="t n" style="left:848px;top:200px;width:28px">20</div>
<div class="t n" style="left:877px;top:200px;width:28px">80</div>
<div class="t n" style="left:10px;top:216px;width:27px">9</div>
<div class="t nm" style="left:38px;top:216px;width:97px"><span style="display:inline-block;transform:scaleX(1.002);transform-origin:left">AOKI</span></div>
<div class="t bl n" style="left:136px;top:216px;width:27px">B</div>
<div class="t n" style="left:164px;top:216px;width:22px">6</div>
<div class="t n" style="left:187px;top:216px;width:22px">5</div>
<div class="t n" style="left:210px;top:216px;width:22px">4</div>
<div class="t n" style="left:233px;top:216px;width:22px">4</div>
<div class="t n" style="left:256px;top:216px;width:22px">5</div>
<div class="t n" style="left:279px;top:216px;width:22px">5</div>
<div class="t n" style="left:302px;top:216px;width:22px">4</div>
<div class="t n" style="left:325px;top:216px;width:22px">4</div>
<div class="t n" style="left:348px;top:216px;width:22px">5</div>
<div class="t n" style="left:371px;top:216px;width:28px">42</div>
<div class="t n" style="left:400px;top:216px;width:22px">6</div>
<div class="t n" style="left:423px;top:216px;width:22px">4</div>
<div class="t n" style="left:446px;top:216px;width:22px">3</div>
<div class="t n" style="left:469px;top:216px;width:22px">6</div>
<div class="t n" style="left:492px;top:216px;width:22px">6</div>
<div class="t n" style="left:515px;top:216px;width:22px">5</div>
<div class="t n" style="left:538px;top:216px;width:22px">4</div>
<div class="t n" style="left:561px;top:216px;width:22px">4</div>
<div class="t n" style="left:584px;top:216px;width:22px">5</div>
<div class="t n" style="left:607px;top:216px;width:28px">43</div>
<div class="t bd wt" style="left:636px;top:216px;width:35px"><span style="display:inline-block;transform:scaleX(1.12);letter-spacing:0.3px;margin-right:-0.3px">85</span></div>
<div class="t n" style="left:672px;top:216px;width:30px">4</div>
<div class="t bd" style="left:703px;top:216px;width:35px"><span style="display:inline-block;transform:scaleX(1.12);letter-spacing:0.3px;margin-right:-0.3px">81</span></div>
<div class="t n" style="left:739px;top:216px;width:30px">29</div>
<div class="t n" style="left:770px;top:216px;width:20px">Y</div>
<div class="t rd n" style="left:819px;top:216px;width:28px">$4</div>
<div class="t n" style="left:848px;top:216px;width:28px">7</div>
<div class="t n" style="left:877px;top:216px;width:28px">78</div>
<div class="t n" style="left:10px;top:232px;width:27px">10</div>
<div class="t nm" style="left:38px;top:232px;width:97px"><span style="display:inline-block;transform:scaleX(0.934);transform-origin:left">TORIGOE</span></div>
<div class="t bl n" style="left:136px;top:232px;width:27px">B</div>
<div class="t n" style="left:164px;top:232px;width:22px">7</div>
<div class="t n" style="left:187px;top:232px;width:22px">6</div>
<div class="t n" style="left:210px;top:232px;width:22px">5</div>
<div class="t n" style="left:233px;top:232px;width:22px">5</div>
<div class="t n" style="left:256px;top:232px;width:22px">5</div>
<div class="t n" style="left:279px;top:232px;width:22px">5</div>
<div class="t n" style="left:302px;top:232px;width:22px">5</div>
<div class="t n" style="left:325px;top:232px;width:22px">5</div>
<div class="t n" style="left:348px;top:232px;width:22px">6</div>
<div class="t n" style="left:371px;top:232px;width:28px">49</div>
<div class="t n" style="left:400px;top:232px;width:22px">6</div>
<div class="t n" style="left:423px;top:232px;width:22px">5</div>
<div class="t n" style="left:446px;top:232px;width:22px">5</div>
<div class="t n" style="left:469px;top:232px;width:22px">5</div>
<div class="t n" style="left:492px;top:232px;width:22px">6</div>
<div class="t n" style="left:515px;top:232px;width:22px">7</div>
<div class="t n" style="left:538px;top:232px;width:22px">5</div>
<div class="t n" style="left:561px;top:232px;width:22px">4</div>
<div class="t n" style="left:584px;top:232px;width:22px">4</div>
<div class="t n" style="left:607px;top:232px;width:28px">47</div>
<div class="t bd wt" style="left:636px;top:232px;width:35px"><span style="display:inline-block;transform:scaleX(1.12);letter-spacing:0.3px;margin-right:-0.3px">96</span></div>
<div class="t n" style="left:672px;top:232px;width:30px">14</div>
<div class="t bd" style="left:703px;top:232px;width:35px"><span style="display:inline-block;transform:scaleX(1.12);letter-spacing:0.3px;margin-right:-0.3px">82</span></div>
<div class="t n" style="left:739px;top:232px;width:30px">31</div>
<div class="t n" style="left:770px;top:232px;width:20px">Y</div>
<div class="t rd n" style="left:819px;top:232px;width:28px">$5</div>
<div class="t n" style="left:848px;top:232px;width:28px">14</div>
<div class="t n" style="left:877px;top:232px;width:28px">82</div>
<div class="t n" style="left:10px;top:248px;width:27px">11</div>
<div class="t nm" style="left:38px;top:248px;width:97px"><span style="display:inline-block;transform:scaleX(0.976);transform-origin:left">KANAMORI</span></div>
<div class="t bl n" style="left:136px;top:248px;width:27px">B</div>
<div class="t n" style="left:164px;top:248px;width:22px">5</div>
<div class="t n" style="left:187px;top:248px;width:22px">6</div>
<div class="t n" style="left:210px;top:248px;width:22px">5</div>
<div class="t n" style="left:233px;top:248px;width:22px">4</div>
<div class="t n" style="left:256px;top:248px;width:22px">5</div>
<div class="t n" style="left:279px;top:248px;width:22px">4</div>
<div class="t n" style="left:302px;top:248px;width:22px">4</div>
<div class="t n" style="left:325px;top:248px;width:22px">5</div>
<div class="t n" style="left:348px;top:248px;width:22px">8</div>
<div class="t n" style="left:371px;top:248px;width:28px">46</div>
<div class="t n" style="left:400px;top:248px;width:22px">6</div>
<div class="t n" style="left:423px;top:248px;width:22px">4</div>
<div class="t n" style="left:446px;top:248px;width:22px">4</div>
<div class="t n" style="left:469px;top:248px;width:22px">5</div>
<div class="t n" style="left:492px;top:248px;width:22px">7</div>
<div class="t n" style="left:515px;top:248px;width:22px">7</div>
<div class="t n" style="left:538px;top:248px;width:22px">3</div>
<div class="t n" style="left:561px;top:248px;width:22px">4</div>
<div class="t n" style="left:584px;top:248px;width:22px">6</div>
<div class="t n" style="left:607px;top:248px;width:28px">46</div>
<div class="t bd wt" style="left:636px;top:248px;width:35px"><span style="display:inline-block;transform:scaleX(1.12);letter-spacing:0.3px;margin-right:-0.3px">92</span></div>
<div class="t n" style="left:672px;top:248px;width:30px">9</div>
<div class="t bd" style="left:703px;top:248px;width:35px"><span style="display:inline-block;transform:scaleX(1.12);letter-spacing:0.3px;margin-right:-0.3px">83</span></div>
<div class="t n" style="left:739px;top:248px;width:30px">35</div>
<div class="t n" style="left:770px;top:248px;width:20px">Y</div>
<div class="t rd n" style="left:819px;top:248px;width:28px">$6</div>
<div class="t n" style="left:848px;top:248px;width:28px">14</div>
<div class="t n" style="left:877px;top:248px;width:28px">78</div>
<div class="t n" style="left:10px;top:264px;width:27px">12</div>
<div class="t nm" style="left:38px;top:264px;width:97px"><span style="display:inline-block;transform:scaleX(0.970);transform-origin:left">KYOHEI</span></div>
<div class="t bl n" style="left:136px;top:264px;width:27px">B</div>
<div class="t n" style="left:164px;top:264px;width:22px">6</div>
<div class="t n" style="left:187px;top:264px;width:22px">5</div>
<div class="t n" style="left:210px;top:264px;width:22px">5</div>
<div class="t n" style="left:233px;top:264px;width:22px">5</div>
<div class="t n" style="left:256px;top:264px;width:22px">4</div>
<div class="t n" style="left:279px;top:264px;width:22px">5</div>
<div class="t n" style="left:302px;top:264px;width:22px">4</div>
<div class="t n" style="left:325px;top:264px;width:22px">6</div>
<div class="t n" style="left:348px;top:264px;width:22px">7</div>
<div class="t n" style="left:371px;top:264px;width:28px">47</div>
<div class="t n" style="left:400px;top:264px;width:22px">5</div>
<div class="t n" style="left:423px;top:264px;width:22px">5</div>
<div class="t n" style="left:446px;top:264px;width:22px">4</div>
<div class="t n" style="left:469px;top:264px;width:22px">5</div>
<div class="t n" style="left:492px;top:264px;width:22px">5</div>
<div class="t n" style="left:515px;top:264px;width:22px">5</div>
<div class="t n" style="left:538px;top:264px;width:22px">7</div>
<div class="t n" style="left:561px;top:264px;width:22px">5</div>
<div class="t n" style="left:584px;top:264px;width:22px">5</div>
<div class="t n" style="left:607px;top:264px;width:28px">46</div>
<div class="t bd wt" style="left:636px;top:264px;width:35px"><span style="display:inline-block;transform:scaleX(1.12);letter-spacing:0.3px;margin-right:-0.3px">93</span></div>
<div class="t n" style="left:672px;top:264px;width:30px">9</div>
<div class="t bd" style="left:703px;top:264px;width:35px"><span style="display:inline-block;transform:scaleX(1.12);letter-spacing:0.3px;margin-right:-0.3px">84</span></div>
<div class="t n" style="left:739px;top:264px;width:30px">39</div>
<div class="t n" style="left:770px;top:264px;width:20px">Y</div>
<div class="t rd n" style="left:819px;top:264px;width:28px">$7</div>
<div class="t n" style="left:848px;top:264px;width:28px">9</div>
<div class="t n" style="left:877px;top:264px;width:28px">84</div>
<div class="t n" style="left:10px;top:280px;width:27px">13</div>
<div class="t nm" style="left:38px;top:280px;width:97px"><span style="display:inline-block;transform:scaleX(0.953);transform-origin:left">HASHIMOTO</span></div>
<div class="t bl n" style="left:136px;top:280px;width:27px">B</div>
<div class="t n" style="left:164px;top:280px;width:22px">7</div>
<div class="t n" style="left:187px;top:280px;width:22px">5</div>
<div class="t n" style="left:210px;top:280px;width:22px">4</div>
<div class="t n" style="left:233px;top:280px;width:22px">6</div>
<div class="t n" style="left:256px;top:280px;width:22px">6</div>
<div class="t n" style="left:279px;top:280px;width:22px">4</div>
<div class="t n" style="left:302px;top:280px;width:22px">4</div>
<div class="t n" style="left:325px;top:280px;width:22px">5</div>
<div class="t n" style="left:348px;top:280px;width:22px">7</div>
<div class="t n" style="left:371px;top:280px;width:28px">48</div>
<div class="t n" style="left:400px;top:280px;width:22px">6</div>
<div class="t n" style="left:423px;top:280px;width:22px">5</div>
<div class="t n" style="left:446px;top:280px;width:22px">3</div>
<div class="t n" style="left:469px;top:280px;width:22px">6</div>
<div class="t n" style="left:492px;top:280px;width:22px">5</div>
<div class="t n" style="left:515px;top:280px;width:22px">7</div>
<div class="t n" style="left:538px;top:280px;width:22px">5</div>
<div class="t n" style="left:561px;top:280px;width:22px">5</div>
<div class="t n" style="left:584px;top:280px;width:22px">5</div>
<div class="t n" style="left:607px;top:280px;width:28px">47</div>
<div class="t bd wt" style="left:636px;top:280px;width:35px"><span style="display:inline-block;transform:scaleX(1.12);letter-spacing:0.3px;margin-right:-0.3px">95</span></div>
<div class="t n" style="left:672px;top:280px;width:30px">11</div>
<div class="t bd" style="left:703px;top:280px;width:35px"><span style="display:inline-block;transform:scaleX(1.12);letter-spacing:0.3px;margin-right:-0.3px">84</span></div>
<div class="t n" style="left:739px;top:280px;width:30px">34</div>
<div class="t n" style="left:770px;top:280px;width:20px">Y</div>
<div class="t rd n" style="left:819px;top:280px;width:28px">$7</div>
<div class="t n" style="left:848px;top:280px;width:28px">12</div>
<div class="t n" style="left:877px;top:280px;width:28px">83</div>
<div class="t n" style="left:10px;top:296px;width:27px">14</div>
<div class="t nm" style="left:38px;top:296px;width:97px"><span style="display:inline-block;transform:scaleX(0.909);transform-origin:left">KUROIWA</span></div>
<div class="t bl n" style="left:136px;top:296px;width:27px">B</div>
<div class="t n" style="left:164px;top:296px;width:22px">6</div>
<div class="t n" style="left:187px;top:296px;width:22px">8</div>
<div class="t n" style="left:210px;top:296px;width:22px">5</div>
<div class="t n" style="left:233px;top:296px;width:22px">5</div>
<div class="t n" style="left:256px;top:296px;width:22px">6</div>
<div class="t n" style="left:279px;top:296px;width:22px">5</div>
<div class="t n" style="left:302px;top:296px;width:22px">5</div>
<div class="t n" style="left:325px;top:296px;width:22px">7</div>
<div class="t n" style="left:348px;top:296px;width:22px">6</div>
<div class="t n" style="left:371px;top:296px;width:28px">53</div>
<div class="t n" style="left:400px;top:296px;width:22px">9</div>
<div class="t n" style="left:423px;top:296px;width:22px">5</div>
<div class="t n" style="left:446px;top:296px;width:22px">10</div>
<div class="t n" style="left:469px;top:296px;width:22px">6</div>
<div class="t n" style="left:492px;top:296px;width:22px">5</div>
<div class="t n" style="left:515px;top:296px;width:22px">7</div>
<div class="t n" style="left:538px;top:296px;width:22px">7</div>
<div class="t n" style="left:561px;top:296px;width:22px">5</div>
<div class="t n" style="left:584px;top:296px;width:22px">7</div>
<div class="t n" style="left:607px;top:296px;width:28px">61</div>
<div class="t bd wt" style="left:636px;top:296px;width:35px"><span style="display:inline-block;transform:scaleX(1.08);letter-spacing:0.0px;margin-right:-0.0px">114</span></div>
<div class="t n" style="left:672px;top:296px;width:30px">28</div>
<div class="t bd" style="left:703px;top:296px;width:35px"><span style="display:inline-block;transform:scaleX(1.12);letter-spacing:0.3px;margin-right:-0.3px">86</span></div>
<div class="t n" style="left:739px;top:296px;width:30px">37</div>
<div class="t n" style="left:770px;top:296px;width:20px">Y</div>
<div class="t rd n" style="left:819px;top:296px;width:28px">$9</div>
<div class="t n" style="left:848px;top:296px;width:28px">28</div>
<div class="t n" style="left:877px;top:296px;width:28px">86</div>
<div class="t n" style="left:10px;top:312px;width:27px">15</div>
<div class="t nm" style="left:38px;top:312px;width:97px"><span style="display:inline-block;transform:scaleX(0.976);transform-origin:left">TOSHIKI</span></div>
<div class="t bl n" style="left:136px;top:312px;width:27px">B</div>
<div class="t n" style="left:164px;top:312px;width:22px">6</div>
<div class="t n" style="left:187px;top:312px;width:22px">6</div>
<div class="t n" style="left:210px;top:312px;width:22px">5</div>
<div class="t n" style="left:233px;top:312px;width:22px">6</div>
<div class="t n" style="left:256px;top:312px;width:22px">5</div>
<div class="t n" style="left:279px;top:312px;width:22px">5</div>
<div class="t n" style="left:302px;top:312px;width:22px">6</div>
<div class="t n" style="left:325px;top:312px;width:22px">6</div>
<div class="t n" style="left:348px;top:312px;width:22px">6</div>
<div class="t n" style="left:371px;top:312px;width:28px">51</div>
<div class="t n" style="left:400px;top:312px;width:22px">8</div>
<div class="t n" style="left:423px;top:312px;width:22px">5</div>
<div class="t n" style="left:446px;top:312px;width:22px">5</div>
<div class="t n" style="left:469px;top:312px;width:22px">6</div>
<div class="t n" style="left:492px;top:312px;width:22px">7</div>
<div class="t n" style="left:515px;top:312px;width:22px">6</div>
<div class="t n" style="left:538px;top:312px;width:22px">6</div>
<div class="t n" style="left:561px;top:312px;width:22px">4</div>
<div class="t n" style="left:584px;top:312px;width:22px">5</div>
<div class="t n" style="left:607px;top:312px;width:28px">52</div>
<div class="t bd wt" style="left:636px;top:312px;width:35px"><span style="display:inline-block;transform:scaleX(1.08);letter-spacing:0.0px;margin-right:-0.0px">103</span></div>
<div class="t n" style="left:672px;top:312px;width:30px">15</div>
<div class="t bd" style="left:703px;top:312px;width:35px"><span style="display:inline-block;transform:scaleX(1.12);letter-spacing:0.3px;margin-right:-0.3px">88</span></div>
<div class="t n" style="left:739px;top:312px;width:30px">30</div>
<div class="t n" style="left:770px;top:312px;width:20px">Y</div>
<div class="t n" style="left:791px;top:312px;width:27px">$5</div>
<div class="t rd n" style="left:819px;top:312px;width:28px">$10</div>
<div class="t n" style="left:848px;top:312px;width:28px">19</div>
<div class="t n" style="left:877px;top:312px;width:28px">84</div>
<div class="t n" style="left:10px;top:328px;width:27px">16</div>
<div class="t nm" style="left:38px;top:328px;width:97px"><span style="display:inline-block;transform:scaleX(0.964);transform-origin:left">KANABUCHI</span></div>
<div class="t n" style="left:136px;top:328px;width:27px">W</div>
<div class="t n" style="left:164px;top:328px;width:22px">7</div>
<div class="t n" style="left:187px;top:328px;width:22px">7</div>
<div class="t n" style="left:210px;top:328px;width:22px">5</div>
<div class="t n" style="left:233px;top:328px;width:22px">6</div>
<div class="t n" style="left:256px;top:328px;width:22px">8</div>
<div class="t n" style="left:279px;top:328px;width:22px">8</div>
<div class="t n" style="left:302px;top:328px;width:22px">5</div>
<div class="t n" style="left:325px;top:328px;width:22px">5</div>
<div class="t n" style="left:348px;top:328px;width:22px">8</div>
<div class="t n" style="left:371px;top:328px;width:28px">59</div>
<div class="t n" style="left:400px;top:328px;width:22px">8</div>
<div class="t n" style="left:423px;top:328px;width:22px">8</div>
<div class="t n" style="left:446px;top:328px;width:22px">6</div>
<div class="t n" style="left:469px;top:328px;width:22px">8</div>
<div class="t n" style="left:492px;top:328px;width:22px">6</div>
<div class="t n" style="left:515px;top:328px;width:22px">8</div>
<div class="t n" style="left:538px;top:328px;width:22px">8</div>
<div class="t n" style="left:561px;top:328px;width:22px">4</div>
<div class="t n" style="left:584px;top:328px;width:22px">6</div>
<div class="t n" style="left:607px;top:328px;width:28px">62</div>
<div class="t bd wt" style="left:636px;top:328px;width:35px"><span style="display:inline-block;transform:scaleX(1.08);letter-spacing:0.0px;margin-right:-0.0px">121</span></div>
<div class="t n" style="left:672px;top:328px;width:30px">26</div>
<div class="t bd" style="left:703px;top:328px;width:35px"><span style="display:inline-block;transform:scaleX(1.12);letter-spacing:0.3px;margin-right:-0.3px">95</span></div>
<div class="t n" style="left:739px;top:328px;width:30px">32</div>
<div class="t n" style="left:770px;top:328px;width:20px">Y</div>
<div class="t rd n" style="left:819px;top:328px;width:28px">$10</div>
<div class="t n" style="left:848px;top:328px;width:28px">29</div>
<div class="t n" style="left:877px;top:328px;width:28px">92</div>
<div class="t " style="left:10px;top:460px;width:27px">E4</div>
<div class="t nm" style="left:38px;top:460px;width:97px">none</div>
<div class="t " style="left:136px;top:460px;width:27px">E7</div>
<div class="t nm" style="left:164px;top:460px;width:91px"><span style="display:inline-block;transform:scaleX(0.976);transform-origin:left">KANAMORI</span></div>
<div class="t " style="left:256px;top:460px;width:22px">W3</div>
<div class="t nm" style="left:279px;top:460px;width:91px"><span style="display:inline-block;transform:scaleX(0.932);transform-origin:left">HIGA</span></div>
<div class="t " style="left:371px;top:460px;width:28px">W8</div>
<div class="t nm" style="left:400px;top:460px;width:91px"><span style="display:inline-block;transform:scaleX(0.875);transform-origin:left">TORU</span></div>
<div class="t " style="left:538px;top:460px;width:22px">E8</div>
<div class="t nm" style="left:561px;top:460px;width:110px"><span style="display:inline-block;transform:scaleX(1.009);transform-origin:left">KATSUYA</span></div>
</div>
</body></html>
